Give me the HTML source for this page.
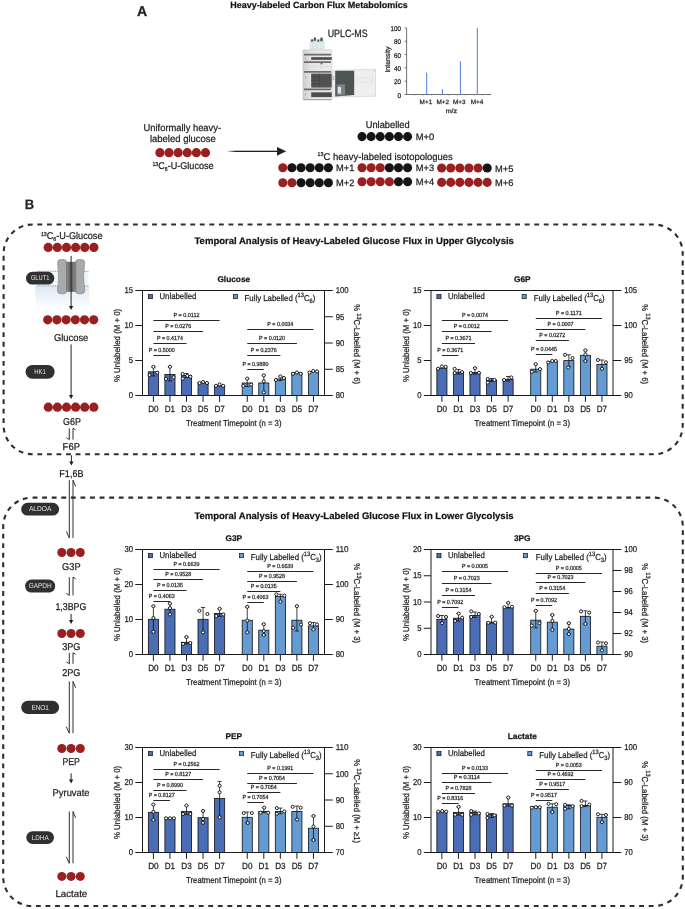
<!DOCTYPE html>
<html><head><meta charset="utf-8"><title>Heavy-labeled Carbon Flux Metabolomics</title>
<style>
html,body{margin:0;padding:0;background:#fff;width:685px;height:909px;overflow:hidden;}
svg{display:block;will-change:transform;text-rendering:geometricPrecision;}
text{font-family:"Liberation Sans", sans-serif;stroke:#1a1a1a;stroke-width:0.3px;stroke-opacity:0.75;}
text.w{stroke:none;}
</style></head><body>
<svg width="685" height="909" viewBox="0 0 685 909" font-family='"Liberation Sans", sans-serif'>
<text x="137" y="15.6" font-size="14.2" font-weight="bold" fill="#222" textLength="10.2" lengthAdjust="spacingAndGlyphs">A</text>
<text x="230.2" y="8" font-size="9" font-weight="bold" fill="#111" textLength="177.5" lengthAdjust="spacingAndGlyphs">Heavy-labeled Carbon Flux Metabolomics</text>
<text x="327.7" y="37.1" font-size="10.6" fill="#222" textLength="39.9" lengthAdjust="spacingAndGlyphs">UPLC-MS</text>
<g id="inst">
<rect x="310" y="41" width="14.4" height="8.2" rx="0.8" fill="#dcecef" stroke="#c2d3d6" stroke-width="0.35"/>
<path d="M312.6 42v7M316.6 41.5v7.5M320.2 42v7" stroke="#c8dadd" stroke-width="0.5"/>
<rect x="310.9" y="39.4" width="2.4" height="2.2" fill="#5a5a5a"/>
<rect x="313.8" y="37.6" width="2.2" height="3.2" fill="#4d4d4d"/>
<rect x="317.2" y="39.6" width="2.2" height="2" fill="#5a5a5a"/>
<rect x="320.3" y="37.8" width="2.4" height="3.4" fill="#4d4d4d"/>
<rect x="311.6" y="39.0" width="1.2" height="0.9" fill="#d9686a"/>
<rect x="314.3" y="37.3" width="1.1" height="0.9" fill="#d9686a"/>
<rect x="317.8" y="39.1" width="1.1" height="0.9" fill="#d9686a"/>
<rect x="320.9" y="37.4" width="1.2" height="0.9" fill="#d9686a"/>
<defs><linearGradient id="mg" x1="0" x2="1" y1="0" y2="0"><stop offset="0" stop-color="#cfcfcf"/><stop offset="0.3" stop-color="#e4e4e4"/><stop offset="1" stop-color="#ededed"/></linearGradient></defs>
<rect x="302.9" y="49.8" width="29" height="50" rx="0.8" fill="url(#mg)" stroke="#b0b0b0" stroke-width="0.4"/>
<path d="M304 54.6H331M304 62.2H331M304 71.8H331M304 89.4H331" stroke="#6c6c6c" stroke-width="1.8"/>
<path d="M303.2 99.6H331.6" stroke="#9a9a9a" stroke-width="0.9"/>
<rect x="311.2" y="57.2" width="20.6" height="2.6" fill="#4a4a4a"/>
<rect x="320.6" y="63.1" width="1.8" height="1.2" fill="#555"/>
<path d="M311 66.8H331" stroke="#d0d0d0" stroke-width="0.5"/>
<rect x="311.2" y="73.6" width="20.6" height="14.0" fill="#525252"/>
<path d="M311.2 77H319.5M311.2 80.5H319.5M311.2 84H319.5" stroke="#3e3e3e" stroke-width="0.6"/>
<path d="M319.6 73.6V87.6" stroke="#464646" stroke-width="0.5"/>
<rect x="311.2" y="92.3" width="20.6" height="4.8" fill="#4d4d4d"/>
<path d="M305.5 57.5v2M305.5 76v2.5M305.5 93.5v2" stroke="#9c9c9c" stroke-width="0.6"/>
<path d="M332.2 70.4L375.5 69.2V96.2L332.2 97Z" fill="#efefef" stroke="#c4c4c4" stroke-width="0.5"/>
<path d="M335.2 70.7H354.2V95L335.2 96.6Z" fill="#4d5453"/>
<rect x="336.7" y="84.4" width="8.4" height="11" fill="#7a8181"/>
<rect x="337.8" y="86.8" width="3.2" height="6.8" rx="0.6" fill="#d6e6f4"/>
<path d="M356 78H372.4M356 82.1H372.4M372.4 73.4V82.1" stroke="#d6d6d6" stroke-width="0.45" fill="none"/>
<path d="M332.6 77h1.8M332.6 79.2h1.8" stroke="#555" stroke-width="0.6"/>
<rect x="373.3" y="70.4" width="1.8" height="0.9" fill="#8fd18f"/>
</g>
<g id="spec">
<path d="M406.6 27.9V94.5H491.2" fill="none" stroke="#333" stroke-width="0.7"/>
<path d="M404.4 94.5H406.6" stroke="#333" stroke-width="0.6"/>
<text x="401" y="97.6" font-size="6.9" text-anchor="end" fill="#2a2a2a" textLength="3.6" lengthAdjust="spacingAndGlyphs">0</text>
<path d="M404.4 81.18H406.6" stroke="#333" stroke-width="0.6"/>
<text x="401" y="84.28" font-size="6.9" text-anchor="end" fill="#2a2a2a" textLength="7" lengthAdjust="spacingAndGlyphs">20</text>
<path d="M404.4 67.86H406.6" stroke="#333" stroke-width="0.6"/>
<text x="401" y="70.96" font-size="6.9" text-anchor="end" fill="#2a2a2a" textLength="7" lengthAdjust="spacingAndGlyphs">40</text>
<path d="M404.4 54.54H406.6" stroke="#333" stroke-width="0.6"/>
<text x="401" y="57.64" font-size="6.9" text-anchor="end" fill="#2a2a2a" textLength="7" lengthAdjust="spacingAndGlyphs">60</text>
<path d="M404.4 41.22H406.6" stroke="#333" stroke-width="0.6"/>
<text x="401" y="44.32" font-size="6.9" text-anchor="end" fill="#2a2a2a" textLength="7" lengthAdjust="spacingAndGlyphs">80</text>
<path d="M404.4 27.9H406.6" stroke="#333" stroke-width="0.6"/>
<text x="401" y="31" font-size="6.9" text-anchor="end" fill="#2a2a2a" textLength="10.4" lengthAdjust="spacingAndGlyphs">100</text>
<path d="M414.5 94.5v1.8" stroke="#999" stroke-width="0.5"/>
<path d="M423.2 94.5v1.8" stroke="#999" stroke-width="0.5"/>
<path d="M431.7 94.5v1.8" stroke="#999" stroke-width="0.5"/>
<path d="M440.2 94.5v1.8" stroke="#999" stroke-width="0.5"/>
<path d="M448.7 94.5v1.8" stroke="#999" stroke-width="0.5"/>
<path d="M457.2 94.5v1.8" stroke="#999" stroke-width="0.5"/>
<path d="M465.7 94.5v1.8" stroke="#999" stroke-width="0.5"/>
<path d="M474.2 94.5v1.8" stroke="#999" stroke-width="0.5"/>
<path d="M482.7 94.5v1.8" stroke="#999" stroke-width="0.5"/>
<path d="M426.7 94.5V72.52" stroke="#4a7fd0" stroke-width="1.0"/>
<path d="M442.4 94.5V89.17" stroke="#4a7fd0" stroke-width="1.0"/>
<path d="M460.4 94.5V61.2" stroke="#4a7fd0" stroke-width="1.0"/>
<path d="M477.3 94.5V27.9" stroke="#4a7fd0" stroke-width="1.0"/>
<text x="425.9" y="103.9" font-size="6.2" text-anchor="middle" fill="#333" textLength="12.6" lengthAdjust="spacingAndGlyphs">M+1</text>
<text x="442.7" y="103.9" font-size="6.2" text-anchor="middle" fill="#333" textLength="12.6" lengthAdjust="spacingAndGlyphs">M+2</text>
<text x="459.2" y="103.9" font-size="6.2" text-anchor="middle" fill="#333" textLength="12.6" lengthAdjust="spacingAndGlyphs">M+3</text>
<text x="477.1" y="103.9" font-size="6.2" text-anchor="middle" fill="#333" textLength="12.6" lengthAdjust="spacingAndGlyphs">M+4</text>
<text x="451.4" y="113.4" font-size="6.2" text-anchor="middle" fill="#333" textLength="11.5" lengthAdjust="spacingAndGlyphs">m/z</text>
<text transform="translate(390.4 59.6) rotate(-90)" font-size="7" text-anchor="middle" fill="#2a2a2a" textLength="26" lengthAdjust="spacingAndGlyphs">Intensity</text>
</g>
<text x="143.6" y="130.9" font-size="9.8" fill="#222" textLength="77.4" lengthAdjust="spacingAndGlyphs">Uniformally heavy-</text>
<text x="149.9" y="142.2" font-size="9.8" fill="#222" textLength="66" lengthAdjust="spacingAndGlyphs">labeled glucose</text>
<circle cx="159.9" cy="152.7" r="4.6" fill="#9a1f20"/>
<circle cx="169.02" cy="152.7" r="4.6" fill="#9a1f20"/>
<circle cx="178.14" cy="152.7" r="4.6" fill="#9a1f20"/>
<circle cx="187.26" cy="152.7" r="4.6" fill="#9a1f20"/>
<circle cx="196.38" cy="152.7" r="4.6" fill="#9a1f20"/>
<circle cx="205.5" cy="152.7" r="4.6" fill="#9a1f20"/>
<text x="152.4" y="169.2" font-size="9.8" textLength="61.2" lengthAdjust="spacingAndGlyphs" fill="#222"><tspan font-size="5.6" dy="-3.2">13</tspan><tspan dy="3.2">C</tspan><tspan font-size="5.6" dy="1.6">6</tspan><tspan dy="-1.6">-U-Glucose</tspan></text>
<defs><linearGradient id="ag" x1="0" x2="1" y1="0" y2="0"><stop offset="0" stop-color="#222" stop-opacity="0"/><stop offset="0.18" stop-color="#222" stop-opacity="1"/></linearGradient><linearGradient id="mem" x1="0" x2="0" y1="0" y2="1"><stop offset="0" stop-color="#dde9f3"/><stop offset="1" stop-color="#fbfdfe"/></linearGradient></defs>
<rect x="226.4" y="150.7" width="51" height="1.3" fill="url(#ag)"/>
<path d="M277 146.9L286.2 151.3L277 155.7Z" fill="#222"/>
<text x="365.7" y="127.6" font-size="9.8" fill="#222" textLength="43.9" lengthAdjust="spacingAndGlyphs">Unlabelled</text>
<circle cx="362" cy="136.6" r="4.55" fill="#151515"/>
<circle cx="371.12" cy="136.6" r="4.55" fill="#151515"/>
<circle cx="380.24" cy="136.6" r="4.55" fill="#151515"/>
<circle cx="389.36" cy="136.6" r="4.55" fill="#151515"/>
<circle cx="398.48" cy="136.6" r="4.55" fill="#151515"/>
<circle cx="407.6" cy="136.6" r="4.55" fill="#151515"/>
<text x="415.7" y="140" font-size="9.4" fill="#222" textLength="18.4" lengthAdjust="spacingAndGlyphs">M+0</text>
<text x="317.6" y="159.5" font-size="9.8" textLength="135.2" lengthAdjust="spacingAndGlyphs" fill="#222"><tspan font-size="5.6" dy="-3.2">13</tspan><tspan dy="3.2">C heavy-labeled isotopologues</tspan></text>
<circle cx="282.8" cy="167.8" r="4.55" fill="#9a1f20"/>
<circle cx="291.92" cy="167.8" r="4.55" fill="#151515"/>
<circle cx="301.04" cy="167.8" r="4.55" fill="#151515"/>
<circle cx="310.16" cy="167.8" r="4.55" fill="#151515"/>
<circle cx="319.28" cy="167.8" r="4.55" fill="#151515"/>
<circle cx="328.4" cy="167.8" r="4.55" fill="#151515"/>
<text x="336" y="171.3" font-size="9.4" fill="#222" textLength="18.4" lengthAdjust="spacingAndGlyphs">M+1</text>
<circle cx="282.8" cy="182.7" r="4.55" fill="#9a1f20"/>
<circle cx="291.92" cy="182.7" r="4.55" fill="#9a1f20"/>
<circle cx="301.04" cy="182.7" r="4.55" fill="#151515"/>
<circle cx="310.16" cy="182.7" r="4.55" fill="#151515"/>
<circle cx="319.28" cy="182.7" r="4.55" fill="#151515"/>
<circle cx="328.4" cy="182.7" r="4.55" fill="#151515"/>
<text x="336" y="186.2" font-size="9.4" fill="#222" textLength="18.4" lengthAdjust="spacingAndGlyphs">M+2</text>
<circle cx="362" cy="167.8" r="4.55" fill="#9a1f20"/>
<circle cx="371.12" cy="167.8" r="4.55" fill="#9a1f20"/>
<circle cx="380.24" cy="167.8" r="4.55" fill="#9a1f20"/>
<circle cx="389.36" cy="167.8" r="4.55" fill="#151515"/>
<circle cx="398.48" cy="167.8" r="4.55" fill="#151515"/>
<circle cx="407.6" cy="167.8" r="4.55" fill="#151515"/>
<text x="415.7" y="171.3" font-size="9.4" fill="#222" textLength="18.4" lengthAdjust="spacingAndGlyphs">M+3</text>
<circle cx="362" cy="181.8" r="4.55" fill="#9a1f20"/>
<circle cx="371.12" cy="181.8" r="4.55" fill="#9a1f20"/>
<circle cx="380.24" cy="181.8" r="4.55" fill="#9a1f20"/>
<circle cx="389.36" cy="181.8" r="4.55" fill="#9a1f20"/>
<circle cx="398.48" cy="181.8" r="4.55" fill="#151515"/>
<circle cx="407.6" cy="181.8" r="4.55" fill="#151515"/>
<text x="415.7" y="185.3" font-size="9.4" fill="#222" textLength="18.4" lengthAdjust="spacingAndGlyphs">M+4</text>
<circle cx="441.6" cy="168" r="4.55" fill="#9a1f20"/>
<circle cx="450.72" cy="168" r="4.55" fill="#9a1f20"/>
<circle cx="459.84" cy="168" r="4.55" fill="#9a1f20"/>
<circle cx="468.96" cy="168" r="4.55" fill="#9a1f20"/>
<circle cx="478.08" cy="168" r="4.55" fill="#9a1f20"/>
<circle cx="487.2" cy="168" r="4.55" fill="#151515"/>
<text x="495" y="171.5" font-size="9.4" fill="#222" textLength="18.4" lengthAdjust="spacingAndGlyphs">M+5</text>
<circle cx="441.6" cy="182.4" r="4.55" fill="#9a1f20"/>
<circle cx="450.72" cy="182.4" r="4.55" fill="#9a1f20"/>
<circle cx="459.84" cy="182.4" r="4.55" fill="#9a1f20"/>
<circle cx="468.96" cy="182.4" r="4.55" fill="#9a1f20"/>
<circle cx="478.08" cy="182.4" r="4.55" fill="#9a1f20"/>
<circle cx="487.2" cy="182.4" r="4.55" fill="#9a1f20"/>
<text x="495" y="185.9" font-size="9.4" fill="#222" textLength="18.4" lengthAdjust="spacingAndGlyphs">M+6</text>
<text x="24.8" y="208.8" font-size="13.6" font-weight="bold" fill="#222" textLength="9.4" lengthAdjust="spacingAndGlyphs">B</text>
<g fill="none" stroke="#2e2e2e" stroke-width="2.1">
<rect x="3.6" y="224.5" width="679.1" height="229.8" rx="29" ry="29" stroke-dasharray="4.85 4.7046" stroke-dashoffset="4.75"/>
<rect x="3.2" y="497.6" width="679.6" height="408.4" rx="29" ry="29" stroke-dasharray="4.85 4.7248" stroke-dashoffset="9.17"/>
</g>
<text x="194.5" y="244.3" font-size="9.6" font-weight="bold" fill="#111" textLength="319.4" lengthAdjust="spacingAndGlyphs">Temporal Analysis of Heavy-Labeled Glucose Flux in Upper Glycolysis</text>
<text x="194.4" y="518.9" font-size="9.6" font-weight="bold" fill="#111" textLength="319.2" lengthAdjust="spacingAndGlyphs">Temporal Analysis of Heavy-Labeled Glucose Flux in Lower Glycolysis</text>
<text x="40.9" y="239.0" font-size="9.8" textLength="61.6" lengthAdjust="spacingAndGlyphs" fill="#222"><tspan font-size="5.6" dy="-3.2">13</tspan><tspan dy="3.2">C</tspan><tspan font-size="5.6" dy="1.6">6</tspan><tspan dy="-1.6">-U-Glucose</tspan></text>
<circle cx="48.2" cy="247.4" r="4.6" fill="#9a1f20"/>
<circle cx="57.34" cy="247.4" r="4.6" fill="#9a1f20"/>
<circle cx="66.48" cy="247.4" r="4.6" fill="#9a1f20"/>
<circle cx="75.62" cy="247.4" r="4.6" fill="#9a1f20"/>
<circle cx="84.76" cy="247.4" r="4.6" fill="#9a1f20"/>
<circle cx="93.9" cy="247.4" r="4.6" fill="#9a1f20"/>
<rect x="35.2" y="286" width="54" height="21" fill="url(#mem)"/>
<rect x="37" y="271.5" width="51.5" height="14.3" fill="#f7fafd"/>
<path d="M38 273.5V284M41 273.5V284M44 273.5V284M47 273.5V284M50 273.5V284M53 273.5V284M56 273.5V284M87 273.5V284" stroke="#dfe8f2" stroke-width="0.5"/>
<path d="M37 271.3H88.5M37 285.8H88.5" stroke="#8fa6c4" stroke-width="1.2" stroke-dasharray="1 0.8"/>
<path d="M57.5 262.5Q57.5 259.5 61 259.5L64 259.5Q66.5 259.5 66.5 262.5L66.5 291Q66.5 293.8 63.5 293.8L61 293.8Q57.5 293.8 57.5 290.5Q59.5 276.7 57.5 262.5Z" fill="#a9aaab" stroke="#6f7071" stroke-width="0.5"/>
<path d="M84.7 262.5Q84.7 259.5 81.2 259.5L78.2 259.5Q75.7 259.5 75.7 262.5L75.7 291Q75.7 293.8 78.7 293.8L81.2 293.8Q84.7 293.8 84.7 290.5Q82.7 276.7 84.7 262.5Z" fill="#a9aaab" stroke="#6f7071" stroke-width="0.5"/>
<rect x="66.3" y="262.0" width="9.6" height="29.6" fill="#808182" stroke="#6f7071" stroke-width="0.4"/>
<rect x="68.6" y="262.0" width="5" height="29.6" fill="#6a6b6c"/>
<rect x="26" y="271.8" width="28.3" height="12.8" rx="6.4" fill="#2f3030"/>
<text x="40.15" y="280.3" font-size="7.1" text-anchor="middle" fill="#e6e6e6" textLength="18.5" lengthAdjust="spacingAndGlyphs" class="w">GLUT1</text>
<path d="M71.1 255.8V306.4" stroke="#262626" stroke-width="1"/>
<path d="M68.95 306L71.1 309.9L73.25 306Z" fill="#1e1e1e"/>
<circle cx="47.7" cy="319.8" r="4.6" fill="#9a1f20"/>
<circle cx="56.9" cy="319.8" r="4.6" fill="#9a1f20"/>
<circle cx="66.1" cy="319.8" r="4.6" fill="#9a1f20"/>
<circle cx="75.3" cy="319.8" r="4.6" fill="#9a1f20"/>
<circle cx="84.5" cy="319.8" r="4.6" fill="#9a1f20"/>
<circle cx="93.7" cy="319.8" r="4.6" fill="#9a1f20"/>
<text x="71.1" y="340.5" font-size="9.9" text-anchor="middle" fill="#222" textLength="34.4" lengthAdjust="spacingAndGlyphs">Glucose</text>
<path d="M71.1 344.4V395.5" stroke="#262626" stroke-width="1"/>
<path d="M68.95 395.1L71.1 399L73.25 395.1Z" fill="#1e1e1e"/>
<rect x="25.5" y="365" width="29.2" height="13.7" rx="6.85" fill="#2f3030"/>
<text x="40.1" y="373.95" font-size="7.1" text-anchor="middle" fill="#e6e6e6" textLength="11.5" lengthAdjust="spacingAndGlyphs" class="w">HK1</text>
<circle cx="48.3" cy="407.2" r="4.6" fill="#9a1f20"/>
<circle cx="57.4" cy="407.2" r="4.6" fill="#9a1f20"/>
<circle cx="66.5" cy="407.2" r="4.6" fill="#9a1f20"/>
<circle cx="75.6" cy="407.2" r="4.6" fill="#9a1f20"/>
<circle cx="84.7" cy="407.2" r="4.6" fill="#9a1f20"/>
<circle cx="93.8" cy="407.2" r="4.6" fill="#9a1f20"/>
<text x="72" y="424.8" font-size="9.9" text-anchor="middle" fill="#222" textLength="17.9" lengthAdjust="spacingAndGlyphs">G6P</text>
<path d="M69.3 428.3V439.6L66.4 437.6" fill="none" stroke="#262626" stroke-width="0.95" stroke-linejoin="round"/>
<path d="M73 439.6V428.3L75.6 429.8" fill="none" stroke="#262626" stroke-width="0.95" stroke-linejoin="round"/>
<text x="71.3" y="450.1" font-size="9.9" text-anchor="middle" fill="#222" textLength="17.4" lengthAdjust="spacingAndGlyphs">F6P</text>
<path d="M71.4 455.3V462" stroke="#262626" stroke-width="1"/>
<path d="M69.25 461.6L71.4 465.5L73.55 461.6Z" fill="#1e1e1e"/>
<text x="71.4" y="476.9" font-size="9.9" text-anchor="middle" fill="#222" textLength="24.1" lengthAdjust="spacingAndGlyphs">F1,6B</text>
<path d="M69.3 480.2V537.9L66.3 531.4" fill="none" stroke="#262626" stroke-width="0.95" stroke-linejoin="round"/>
<path d="M73 537.9V480.2L75.6 486.5" fill="none" stroke="#262626" stroke-width="0.95" stroke-linejoin="round"/>
<rect x="21.2" y="502.8" width="37.9" height="12.7" rx="6.35" fill="#2f3030"/>
<text x="40.15" y="511.25" font-size="7.1" text-anchor="middle" fill="#e6e6e6" textLength="22.5" lengthAdjust="spacingAndGlyphs" class="w">ALDOA</text>
<circle cx="61.8" cy="552.5" r="4.5" fill="#9a1f20"/>
<circle cx="71.05" cy="552.5" r="4.5" fill="#9a1f20"/>
<circle cx="80.3" cy="552.5" r="4.5" fill="#9a1f20"/>
<text x="71.4" y="570" font-size="9.9" text-anchor="middle" fill="#222" textLength="18.6" lengthAdjust="spacingAndGlyphs">G3P</text>
<path d="M69.3 577.2V595.4L66.4 593.4" fill="none" stroke="#262626" stroke-width="0.95" stroke-linejoin="round"/>
<path d="M73 595.4V577.2L75.6 578.7" fill="none" stroke="#262626" stroke-width="0.95" stroke-linejoin="round"/>
<rect x="25.1" y="579.5" width="30.1" height="13.1" rx="6.55" fill="#2f3030"/>
<text x="40.15" y="588.15" font-size="7.1" text-anchor="middle" fill="#e6e6e6" textLength="23" lengthAdjust="spacingAndGlyphs" class="w">GAPDH</text>
<text x="70.9" y="609.7" font-size="9.9" text-anchor="middle" fill="#222" textLength="31" lengthAdjust="spacingAndGlyphs">1,3BPG</text>
<path d="M71.1 613.8V620.5" stroke="#262626" stroke-width="1"/>
<path d="M68.95 620.1L71.1 624L73.25 620.1Z" fill="#1e1e1e"/>
<circle cx="61.8" cy="633.5" r="4.5" fill="#9a1f20"/>
<circle cx="71.05" cy="633.5" r="4.5" fill="#9a1f20"/>
<circle cx="80.3" cy="633.5" r="4.5" fill="#9a1f20"/>
<text x="71.3" y="649.6" font-size="9.9" text-anchor="middle" fill="#222" textLength="18.3" lengthAdjust="spacingAndGlyphs">3PG</text>
<path d="M69.3 652.8V663.8L66.4 661.8" fill="none" stroke="#262626" stroke-width="0.95" stroke-linejoin="round"/>
<path d="M73 663.8V652.8L75.6 654.3" fill="none" stroke="#262626" stroke-width="0.95" stroke-linejoin="round"/>
<text x="71.3" y="676" font-size="9.9" text-anchor="middle" fill="#222" textLength="18.3" lengthAdjust="spacingAndGlyphs">2PG</text>
<path d="M69.3 681.4V733.2L66.3 726.7" fill="none" stroke="#262626" stroke-width="0.95" stroke-linejoin="round"/>
<path d="M73 733.2V681.4L75.6 687.7" fill="none" stroke="#262626" stroke-width="0.95" stroke-linejoin="round"/>
<rect x="21.2" y="700.8" width="37.9" height="13.2" rx="6.6" fill="#2f3030"/>
<text x="40.15" y="709.5" font-size="7.1" text-anchor="middle" fill="#e6e6e6" textLength="17.5" lengthAdjust="spacingAndGlyphs" class="w">ENO1</text>
<circle cx="61.8" cy="748.5" r="4.5" fill="#9a1f20"/>
<circle cx="71.05" cy="748.5" r="4.5" fill="#9a1f20"/>
<circle cx="80.3" cy="748.5" r="4.5" fill="#9a1f20"/>
<text x="71.2" y="764.8" font-size="9.9" text-anchor="middle" fill="#222" textLength="17.6" lengthAdjust="spacingAndGlyphs">PEP</text>
<path d="M71.1 773.3V780" stroke="#262626" stroke-width="1"/>
<path d="M68.95 779.6L71.1 783.5L73.25 779.6Z" fill="#1e1e1e"/>
<text x="71.1" y="795.9" font-size="9.9" text-anchor="middle" fill="#222" textLength="37" lengthAdjust="spacingAndGlyphs">Pyruvate</text>
<path d="M69.3 811.5V863.3L66.3 856.8" fill="none" stroke="#262626" stroke-width="0.95" stroke-linejoin="round"/>
<path d="M73 863.3V811.5L75.6 817.8" fill="none" stroke="#262626" stroke-width="0.95" stroke-linejoin="round"/>
<rect x="26.3" y="831.2" width="27.7" height="12.7" rx="6.35" fill="#2f3030"/>
<text x="40.15" y="839.65" font-size="7.1" text-anchor="middle" fill="#e6e6e6" textLength="17" lengthAdjust="spacingAndGlyphs" class="w">LDHA</text>
<circle cx="61.8" cy="876.4" r="4.5" fill="#9a1f20"/>
<circle cx="71.05" cy="876.4" r="4.5" fill="#9a1f20"/>
<circle cx="80.3" cy="876.4" r="4.5" fill="#9a1f20"/>
<text x="71.35" y="896.9" font-size="9.9" text-anchor="middle" fill="#222" textLength="31.9" lengthAdjust="spacingAndGlyphs">Lactate</text>
<g>
<text x="233.75" y="282" font-size="8.3" text-anchor="middle" font-weight="bold" fill="#111">Glucose</text>
<path d="M142.5 290.5H324.5M142.5 290.5V395.5H324.5V290.5" fill="none" stroke="#1a1a1a" stroke-width="1"/>
<path d="M135.3 395.5H142.5" stroke="#1a1a1a" stroke-width="1"/>
<text x="133.1" y="398.2" font-size="8.5" text-anchor="end" fill="#1c1c1c" textLength="4.3" lengthAdjust="spacingAndGlyphs">0</text>
<path d="M135.3 360.5H142.5" stroke="#1a1a1a" stroke-width="1"/>
<text x="133.1" y="363.2" font-size="8.5" text-anchor="end" fill="#1c1c1c" textLength="4.3" lengthAdjust="spacingAndGlyphs">5</text>
<path d="M135.3 325.5H142.5" stroke="#1a1a1a" stroke-width="1"/>
<text x="133.1" y="328.2" font-size="8.5" text-anchor="end" fill="#1c1c1c" textLength="8.6" lengthAdjust="spacingAndGlyphs">10</text>
<path d="M135.3 290.5H142.5" stroke="#1a1a1a" stroke-width="1"/>
<text x="133.1" y="293.2" font-size="8.5" text-anchor="end" fill="#1c1c1c" textLength="8.6" lengthAdjust="spacingAndGlyphs">15</text>
<path d="M324.5 395.5H332.8" stroke="#1a1a1a" stroke-width="1"/>
<text x="335.7" y="398.3" font-size="8.5" fill="#1c1c1c" textLength="8.6" lengthAdjust="spacingAndGlyphs">80</text>
<path d="M324.5 369.25H332.8" stroke="#1a1a1a" stroke-width="1"/>
<text x="335.7" y="372.05" font-size="8.5" fill="#1c1c1c" textLength="8.6" lengthAdjust="spacingAndGlyphs">85</text>
<path d="M324.5 343H332.8" stroke="#1a1a1a" stroke-width="1"/>
<text x="335.7" y="345.8" font-size="8.5" fill="#1c1c1c" textLength="8.6" lengthAdjust="spacingAndGlyphs">90</text>
<path d="M324.5 316.75H332.8" stroke="#1a1a1a" stroke-width="1"/>
<text x="335.7" y="319.55" font-size="8.5" fill="#1c1c1c" textLength="8.6" lengthAdjust="spacingAndGlyphs">95</text>
<path d="M324.5 290.5H332.8" stroke="#1a1a1a" stroke-width="1"/>
<text x="335.7" y="293.3" font-size="8.5" fill="#1c1c1c" textLength="12.9" lengthAdjust="spacingAndGlyphs">100</text>
<text transform="translate(120.2 345.5) rotate(-90)" font-size="8.6" text-anchor="middle" fill="#1c1c1c" textLength="73.2" lengthAdjust="spacingAndGlyphs">% Unlabelled (M + 0)</text>
<text transform="translate(353.9 344.2) rotate(90)" font-size="8.6" text-anchor="middle" fill="#1c1c1c" textLength="79.8" lengthAdjust="spacingAndGlyphs">% <tspan font-size="6.2" dy="-3.3">13</tspan><tspan dy="3.3">C-Labelled (M + 6)</tspan></text>
<path d="M153.4 395.5V401.8" stroke="#1a1a1a" stroke-width="1"/>
<text x="153.4" y="411.7" font-size="9" text-anchor="middle" fill="#1c1c1c" textLength="10.4" lengthAdjust="spacingAndGlyphs">D0</text>
<path d="M169.95 395.5V401.8" stroke="#1a1a1a" stroke-width="1"/>
<text x="169.95" y="411.7" font-size="9" text-anchor="middle" fill="#1c1c1c" textLength="10.4" lengthAdjust="spacingAndGlyphs">D1</text>
<path d="M186.5 395.5V401.8" stroke="#1a1a1a" stroke-width="1"/>
<text x="186.5" y="411.7" font-size="9" text-anchor="middle" fill="#1c1c1c" textLength="10.4" lengthAdjust="spacingAndGlyphs">D3</text>
<path d="M203.05 395.5V401.8" stroke="#1a1a1a" stroke-width="1"/>
<text x="203.05" y="411.7" font-size="9" text-anchor="middle" fill="#1c1c1c" textLength="10.4" lengthAdjust="spacingAndGlyphs">D5</text>
<path d="M219.6 395.5V401.8" stroke="#1a1a1a" stroke-width="1"/>
<text x="219.6" y="411.7" font-size="9" text-anchor="middle" fill="#1c1c1c" textLength="10.4" lengthAdjust="spacingAndGlyphs">D7</text>
<path d="M247.25 395.5V401.8" stroke="#1a1a1a" stroke-width="1"/>
<text x="247.25" y="411.7" font-size="9" text-anchor="middle" fill="#1c1c1c" textLength="10.4" lengthAdjust="spacingAndGlyphs">D0</text>
<path d="M263.8 395.5V401.8" stroke="#1a1a1a" stroke-width="1"/>
<text x="263.8" y="411.7" font-size="9" text-anchor="middle" fill="#1c1c1c" textLength="10.4" lengthAdjust="spacingAndGlyphs">D1</text>
<path d="M280.35 395.5V401.8" stroke="#1a1a1a" stroke-width="1"/>
<text x="280.35" y="411.7" font-size="9" text-anchor="middle" fill="#1c1c1c" textLength="10.4" lengthAdjust="spacingAndGlyphs">D3</text>
<path d="M296.9 395.5V401.8" stroke="#1a1a1a" stroke-width="1"/>
<text x="296.9" y="411.7" font-size="9" text-anchor="middle" fill="#1c1c1c" textLength="10.4" lengthAdjust="spacingAndGlyphs">D5</text>
<path d="M313.45 395.5V401.8" stroke="#1a1a1a" stroke-width="1"/>
<text x="313.45" y="411.7" font-size="9" text-anchor="middle" fill="#1c1c1c" textLength="10.4" lengthAdjust="spacingAndGlyphs">D7</text>
<text x="233.8" y="425.7" font-size="8.6" text-anchor="middle" fill="#1c1c1c" textLength="95.4" lengthAdjust="spacingAndGlyphs">Treatment Timepoint (n = 3)</text>
<rect x="148.4" y="294.6" width="4.1" height="4.1" fill="#4a6db5" stroke="#111" stroke-width="0.7"/>
<text x="159.5" y="298.8" font-size="8.6" fill="#1c1c1c" textLength="36.8" lengthAdjust="spacingAndGlyphs">Unlabelled</text>
<rect x="233.4" y="294.6" width="4.1" height="4.1" fill="#639bd2" stroke="#111" stroke-width="0.7"/>
<text x="244.6" y="301" font-size="8.6" fill="#1c1c1c" textLength="70.8" lengthAdjust="spacingAndGlyphs">Fully Labelled (<tspan font-size="6.3" dy="-3.6">13</tspan><tspan dy="3.6">C</tspan><tspan font-size="6.3" dy="2.0">6</tspan><tspan dy="-2.0">)</tspan></text>
<rect x="148.35" y="371.8" width="10.1" height="23.7" fill="#4a6db5" stroke="#111" stroke-width="0.8"/>
<path d="M153.4 366.8V376M151.3 366.8H155.5M151.3 376H155.5" stroke="#111" stroke-width="0.8"/>
<circle cx="153.4" cy="366.8" r="1.55" fill="#fff" stroke="#0a0a0a" stroke-width="0.9"/>
<circle cx="149.6" cy="375" r="1.55" fill="#fff" stroke="#0a0a0a" stroke-width="0.9"/>
<circle cx="157.2" cy="372.7" r="1.55" fill="#fff" stroke="#0a0a0a" stroke-width="0.9"/>
<rect x="164.9" y="374.4" width="10.1" height="21.1" fill="#4a6db5" stroke="#111" stroke-width="0.8"/>
<path d="M169.95 366.8V381M167.85 366.8H172.05M167.85 381H172.05" stroke="#111" stroke-width="0.8"/>
<circle cx="169.95" cy="366.8" r="1.55" fill="#fff" stroke="#0a0a0a" stroke-width="0.9"/>
<circle cx="165.95" cy="379" r="1.55" fill="#fff" stroke="#0a0a0a" stroke-width="0.9"/>
<circle cx="173.55" cy="377.3" r="1.55" fill="#fff" stroke="#0a0a0a" stroke-width="0.9"/>
<rect x="181.45" y="375.4" width="10.1" height="20.1" fill="#4a6db5" stroke="#111" stroke-width="0.8"/>
<path d="M186.5 373.5V377.5M184.4 373.5H188.6M184.4 377.5H188.6" stroke="#111" stroke-width="0.8"/>
<circle cx="182.7" cy="374" r="1.55" fill="#fff" stroke="#0a0a0a" stroke-width="0.9"/>
<circle cx="182.7" cy="378.6" r="1.55" fill="#fff" stroke="#0a0a0a" stroke-width="0.9"/>
<circle cx="187.3" cy="375.8" r="1.55" fill="#fff" stroke="#0a0a0a" stroke-width="0.9"/>
<circle cx="190.4" cy="376.7" r="1.55" fill="#fff" stroke="#0a0a0a" stroke-width="0.9"/>
<rect x="198" y="382.6" width="10.1" height="12.9" fill="#4a6db5" stroke="#111" stroke-width="0.8"/>
<circle cx="199.55" cy="383" r="1.55" fill="#fff" stroke="#0a0a0a" stroke-width="0.9"/>
<circle cx="203.05" cy="382" r="1.55" fill="#fff" stroke="#0a0a0a" stroke-width="0.9"/>
<circle cx="206.95" cy="383" r="1.55" fill="#fff" stroke="#0a0a0a" stroke-width="0.9"/>
<rect x="214.55" y="385.9" width="10.1" height="9.6" fill="#4a6db5" stroke="#111" stroke-width="0.8"/>
<circle cx="216" cy="385.8" r="1.55" fill="#fff" stroke="#0a0a0a" stroke-width="0.9"/>
<circle cx="219.6" cy="384.3" r="1.55" fill="#fff" stroke="#0a0a0a" stroke-width="0.9"/>
<circle cx="223.2" cy="385.8" r="1.55" fill="#fff" stroke="#0a0a0a" stroke-width="0.9"/>
<rect x="242.2" y="383" width="10.1" height="12.5" fill="#639bd2" stroke="#111" stroke-width="0.8"/>
<path d="M247.25 378.6V386.5M245.15 378.6H249.35M245.15 386.5H249.35" stroke="#111" stroke-width="0.8"/>
<circle cx="247.25" cy="378.6" r="1.55" fill="#fff" stroke="#0a0a0a" stroke-width="0.9"/>
<circle cx="243.35" cy="385.9" r="1.55" fill="#fff" stroke="#0a0a0a" stroke-width="0.9"/>
<circle cx="251.15" cy="384.6" r="1.55" fill="#fff" stroke="#0a0a0a" stroke-width="0.9"/>
<rect x="258.75" y="383" width="10.1" height="12.5" fill="#639bd2" stroke="#111" stroke-width="0.8"/>
<path d="M263.8 375.4V392.4M261.7 375.4H265.9M261.7 392.4H265.9" stroke="#111" stroke-width="0.8"/>
<circle cx="263.8" cy="375.4" r="1.55" fill="#fff" stroke="#0a0a0a" stroke-width="0.9"/>
<circle cx="263.8" cy="381.3" r="1.55" fill="#fff" stroke="#0a0a0a" stroke-width="0.9"/>
<circle cx="263.8" cy="392.4" r="1.55" fill="#fff" stroke="#0a0a0a" stroke-width="0.9"/>
<rect x="275.3" y="379" width="10.1" height="16.5" fill="#639bd2" stroke="#111" stroke-width="0.8"/>
<path d="M280.35 376.4V380.5M278.25 376.4H282.45M278.25 380.5H282.45" stroke="#111" stroke-width="0.8"/>
<circle cx="275.95" cy="380" r="1.55" fill="#fff" stroke="#0a0a0a" stroke-width="0.9"/>
<circle cx="280.35" cy="376.4" r="1.55" fill="#fff" stroke="#0a0a0a" stroke-width="0.9"/>
<circle cx="283.95" cy="378" r="1.55" fill="#fff" stroke="#0a0a0a" stroke-width="0.9"/>
<rect x="291.85" y="372.7" width="10.1" height="22.8" fill="#639bd2" stroke="#111" stroke-width="0.8"/>
<circle cx="293" cy="373.8" r="1.55" fill="#fff" stroke="#0a0a0a" stroke-width="0.9"/>
<circle cx="296.9" cy="372.5" r="1.55" fill="#fff" stroke="#0a0a0a" stroke-width="0.9"/>
<circle cx="300.6" cy="373.8" r="1.55" fill="#fff" stroke="#0a0a0a" stroke-width="0.9"/>
<rect x="308.4" y="371.4" width="10.1" height="24.1" fill="#639bd2" stroke="#111" stroke-width="0.8"/>
<circle cx="309.45" cy="372.5" r="1.55" fill="#fff" stroke="#0a0a0a" stroke-width="0.9"/>
<circle cx="313.25" cy="371" r="1.55" fill="#fff" stroke="#0a0a0a" stroke-width="0.9"/>
<circle cx="317.05" cy="371.4" r="1.55" fill="#fff" stroke="#0a0a0a" stroke-width="0.9"/>
<path d="M153.4 355.5H169.95" stroke="#262626" stroke-width="1"/>
<text x="161.68" y="352.2" font-size="5.9" text-anchor="middle" fill="#1c1c1c" textLength="26" lengthAdjust="spacingAndGlyphs">P = 0.5000</text>
<path d="M153.4 343.5H186.5" stroke="#262626" stroke-width="1"/>
<text x="169.95" y="340.2" font-size="5.9" text-anchor="middle" fill="#1c1c1c" textLength="26" lengthAdjust="spacingAndGlyphs">P = 0.4174</text>
<path d="M153.4 331.5H203.05" stroke="#262626" stroke-width="1"/>
<text x="178.23" y="328.2" font-size="5.9" text-anchor="middle" fill="#1c1c1c" textLength="26" lengthAdjust="spacingAndGlyphs">P = 0.0276</text>
<path d="M153.4 320.5H219.6" stroke="#262626" stroke-width="1"/>
<text x="186.5" y="317.2" font-size="5.9" text-anchor="middle" fill="#1c1c1c" textLength="26" lengthAdjust="spacingAndGlyphs">P = 0.0112</text>
<path d="M247.25 369.5H263.8" stroke="#262626" stroke-width="1"/>
<text x="255.53" y="366.2" font-size="5.9" text-anchor="middle" fill="#1c1c1c" textLength="26" lengthAdjust="spacingAndGlyphs">P = 0.9880</text>
<path d="M247.25 355.5H280.35" stroke="#262626" stroke-width="1"/>
<text x="263.8" y="352.2" font-size="5.9" text-anchor="middle" fill="#1c1c1c" textLength="26" lengthAdjust="spacingAndGlyphs">P = 0.2376</text>
<path d="M247.25 343.5H296.9" stroke="#262626" stroke-width="1"/>
<text x="272.07" y="340.2" font-size="5.9" text-anchor="middle" fill="#1c1c1c" textLength="26" lengthAdjust="spacingAndGlyphs">P = 0.0120</text>
<path d="M247.25 329.5H313.45" stroke="#262626" stroke-width="1"/>
<text x="280.35" y="326.2" font-size="5.9" text-anchor="middle" fill="#1c1c1c" textLength="26" lengthAdjust="spacingAndGlyphs">P = 0.0034</text>
</g>
<g>
<text x="522.25" y="282" font-size="8.3" text-anchor="middle" font-weight="bold" fill="#111">G6P</text>
<path d="M431 290.5H613M431 290.5V395.5H613V290.5" fill="none" stroke="#1a1a1a" stroke-width="1"/>
<path d="M423.8 395.5H431" stroke="#1a1a1a" stroke-width="1"/>
<text x="421.6" y="398.2" font-size="8.5" text-anchor="end" fill="#1c1c1c" textLength="4.3" lengthAdjust="spacingAndGlyphs">0</text>
<path d="M423.8 360.5H431" stroke="#1a1a1a" stroke-width="1"/>
<text x="421.6" y="363.2" font-size="8.5" text-anchor="end" fill="#1c1c1c" textLength="4.3" lengthAdjust="spacingAndGlyphs">5</text>
<path d="M423.8 325.5H431" stroke="#1a1a1a" stroke-width="1"/>
<text x="421.6" y="328.2" font-size="8.5" text-anchor="end" fill="#1c1c1c" textLength="8.6" lengthAdjust="spacingAndGlyphs">10</text>
<path d="M423.8 290.5H431" stroke="#1a1a1a" stroke-width="1"/>
<text x="421.6" y="293.2" font-size="8.5" text-anchor="end" fill="#1c1c1c" textLength="8.6" lengthAdjust="spacingAndGlyphs">15</text>
<path d="M613 395.5H621.3" stroke="#1a1a1a" stroke-width="1"/>
<text x="624.2" y="398.3" font-size="8.5" fill="#1c1c1c" textLength="8.6" lengthAdjust="spacingAndGlyphs">90</text>
<path d="M613 360.5H621.3" stroke="#1a1a1a" stroke-width="1"/>
<text x="624.2" y="363.3" font-size="8.5" fill="#1c1c1c" textLength="8.6" lengthAdjust="spacingAndGlyphs">95</text>
<path d="M613 325.5H621.3" stroke="#1a1a1a" stroke-width="1"/>
<text x="624.2" y="328.3" font-size="8.5" fill="#1c1c1c" textLength="12.9" lengthAdjust="spacingAndGlyphs">100</text>
<path d="M613 290.5H621.3" stroke="#1a1a1a" stroke-width="1"/>
<text x="624.2" y="293.3" font-size="8.5" fill="#1c1c1c" textLength="12.9" lengthAdjust="spacingAndGlyphs">105</text>
<text transform="translate(408.7 345.5) rotate(-90)" font-size="8.6" text-anchor="middle" fill="#1c1c1c" textLength="73.2" lengthAdjust="spacingAndGlyphs">% Unlabelled (M + 0)</text>
<text transform="translate(642.4 344.2) rotate(90)" font-size="8.6" text-anchor="middle" fill="#1c1c1c" textLength="79.8" lengthAdjust="spacingAndGlyphs">% <tspan font-size="6.2" dy="-3.3">13</tspan><tspan dy="3.3">C-Labelled (M + 6)</tspan></text>
<path d="M441.9 395.5V401.8" stroke="#1a1a1a" stroke-width="1"/>
<text x="441.9" y="411.7" font-size="9" text-anchor="middle" fill="#1c1c1c" textLength="10.4" lengthAdjust="spacingAndGlyphs">D0</text>
<path d="M458.45 395.5V401.8" stroke="#1a1a1a" stroke-width="1"/>
<text x="458.45" y="411.7" font-size="9" text-anchor="middle" fill="#1c1c1c" textLength="10.4" lengthAdjust="spacingAndGlyphs">D1</text>
<path d="M475 395.5V401.8" stroke="#1a1a1a" stroke-width="1"/>
<text x="475" y="411.7" font-size="9" text-anchor="middle" fill="#1c1c1c" textLength="10.4" lengthAdjust="spacingAndGlyphs">D3</text>
<path d="M491.55 395.5V401.8" stroke="#1a1a1a" stroke-width="1"/>
<text x="491.55" y="411.7" font-size="9" text-anchor="middle" fill="#1c1c1c" textLength="10.4" lengthAdjust="spacingAndGlyphs">D5</text>
<path d="M508.1 395.5V401.8" stroke="#1a1a1a" stroke-width="1"/>
<text x="508.1" y="411.7" font-size="9" text-anchor="middle" fill="#1c1c1c" textLength="10.4" lengthAdjust="spacingAndGlyphs">D7</text>
<path d="M535.75 395.5V401.8" stroke="#1a1a1a" stroke-width="1"/>
<text x="535.75" y="411.7" font-size="9" text-anchor="middle" fill="#1c1c1c" textLength="10.4" lengthAdjust="spacingAndGlyphs">D0</text>
<path d="M552.3 395.5V401.8" stroke="#1a1a1a" stroke-width="1"/>
<text x="552.3" y="411.7" font-size="9" text-anchor="middle" fill="#1c1c1c" textLength="10.4" lengthAdjust="spacingAndGlyphs">D1</text>
<path d="M568.85 395.5V401.8" stroke="#1a1a1a" stroke-width="1"/>
<text x="568.85" y="411.7" font-size="9" text-anchor="middle" fill="#1c1c1c" textLength="10.4" lengthAdjust="spacingAndGlyphs">D3</text>
<path d="M585.4 395.5V401.8" stroke="#1a1a1a" stroke-width="1"/>
<text x="585.4" y="411.7" font-size="9" text-anchor="middle" fill="#1c1c1c" textLength="10.4" lengthAdjust="spacingAndGlyphs">D5</text>
<path d="M601.95 395.5V401.8" stroke="#1a1a1a" stroke-width="1"/>
<text x="601.95" y="411.7" font-size="9" text-anchor="middle" fill="#1c1c1c" textLength="10.4" lengthAdjust="spacingAndGlyphs">D7</text>
<text x="522.3" y="425.7" font-size="8.6" text-anchor="middle" fill="#1c1c1c" textLength="95.4" lengthAdjust="spacingAndGlyphs">Treatment Timepoint (n = 3)</text>
<rect x="436.9" y="294.6" width="4.1" height="4.1" fill="#4a6db5" stroke="#111" stroke-width="0.7"/>
<text x="448" y="298.8" font-size="8.6" fill="#1c1c1c" textLength="36.8" lengthAdjust="spacingAndGlyphs">Unlabelled</text>
<rect x="522.1" y="294.6" width="4.1" height="4.1" fill="#639bd2" stroke="#111" stroke-width="0.7"/>
<text x="533.8" y="301" font-size="8.6" fill="#1c1c1c" textLength="70.8" lengthAdjust="spacingAndGlyphs">Fully Labelled (<tspan font-size="6.3" dy="-3.6">13</tspan><tspan dy="3.6">C</tspan><tspan font-size="6.3" dy="2.0">6</tspan><tspan dy="-2.0">)</tspan></text>
<rect x="436.85" y="368.2" width="10.1" height="27.3" fill="#4a6db5" stroke="#111" stroke-width="0.8"/>
<circle cx="438.1" cy="368.8" r="1.55" fill="#fff" stroke="#0a0a0a" stroke-width="0.9"/>
<circle cx="441.9" cy="366.4" r="1.55" fill="#fff" stroke="#0a0a0a" stroke-width="0.9"/>
<circle cx="445.7" cy="366.8" r="1.55" fill="#fff" stroke="#0a0a0a" stroke-width="0.9"/>
<rect x="453.4" y="372.1" width="10.1" height="23.4" fill="#4a6db5" stroke="#111" stroke-width="0.8"/>
<path d="M458.45 369.5V374M456.35 369.5H460.55M456.35 374H460.55" stroke="#111" stroke-width="0.8"/>
<circle cx="454.65" cy="368.8" r="1.55" fill="#fff" stroke="#0a0a0a" stroke-width="0.9"/>
<circle cx="454.65" cy="373" r="1.55" fill="#fff" stroke="#0a0a0a" stroke-width="0.9"/>
<circle cx="462.05" cy="372.1" r="1.55" fill="#fff" stroke="#0a0a0a" stroke-width="0.9"/>
<rect x="469.95" y="372.5" width="10.1" height="23" fill="#4a6db5" stroke="#111" stroke-width="0.8"/>
<path d="M475 368.2V374M472.9 368.2H477.1M472.9 374H477.1" stroke="#111" stroke-width="0.8"/>
<circle cx="475" cy="368.2" r="1.55" fill="#fff" stroke="#0a0a0a" stroke-width="0.9"/>
<circle cx="470.9" cy="373" r="1.55" fill="#fff" stroke="#0a0a0a" stroke-width="0.9"/>
<circle cx="478.9" cy="372.8" r="1.55" fill="#fff" stroke="#0a0a0a" stroke-width="0.9"/>
<rect x="486.5" y="380" width="10.1" height="15.5" fill="#4a6db5" stroke="#111" stroke-width="0.8"/>
<path d="M491.55 378.5V381.5M489.45 378.5H493.65M489.45 381.5H493.65" stroke="#111" stroke-width="0.8"/>
<circle cx="487.75" cy="379" r="1.55" fill="#fff" stroke="#0a0a0a" stroke-width="0.9"/>
<circle cx="487.75" cy="382.6" r="1.55" fill="#fff" stroke="#0a0a0a" stroke-width="0.9"/>
<circle cx="494.45" cy="380" r="1.55" fill="#fff" stroke="#0a0a0a" stroke-width="0.9"/>
<rect x="503.05" y="379.3" width="10.1" height="16.2" fill="#4a6db5" stroke="#111" stroke-width="0.8"/>
<path d="M508.1 376.5V381M506 376.5H510.2M506 381H510.2" stroke="#111" stroke-width="0.8"/>
<circle cx="504.1" cy="380" r="1.55" fill="#fff" stroke="#0a0a0a" stroke-width="0.9"/>
<circle cx="511.3" cy="377.4" r="1.55" fill="#fff" stroke="#0a0a0a" stroke-width="0.9"/>
<rect x="530.7" y="369.2" width="10.1" height="26.3" fill="#639bd2" stroke="#111" stroke-width="0.8"/>
<path d="M535.75 364.2V372M533.65 364.2H537.85M533.65 372H537.85" stroke="#111" stroke-width="0.8"/>
<circle cx="535.75" cy="364.2" r="1.55" fill="#fff" stroke="#0a0a0a" stroke-width="0.9"/>
<circle cx="531.85" cy="371.7" r="1.55" fill="#fff" stroke="#0a0a0a" stroke-width="0.9"/>
<circle cx="539.95" cy="369.1" r="1.55" fill="#fff" stroke="#0a0a0a" stroke-width="0.9"/>
<rect x="547.25" y="361.6" width="10.1" height="33.9" fill="#639bd2" stroke="#111" stroke-width="0.8"/>
<circle cx="548.2" cy="362.5" r="1.55" fill="#fff" stroke="#0a0a0a" stroke-width="0.9"/>
<circle cx="552.2" cy="361" r="1.55" fill="#fff" stroke="#0a0a0a" stroke-width="0.9"/>
<circle cx="555.7" cy="361" r="1.55" fill="#fff" stroke="#0a0a0a" stroke-width="0.9"/>
<rect x="563.8" y="360.6" width="10.1" height="34.9" fill="#639bd2" stroke="#111" stroke-width="0.8"/>
<path d="M568.85 354.8V366.5M566.75 354.8H570.95M566.75 366.5H570.95" stroke="#111" stroke-width="0.8"/>
<circle cx="565.05" cy="354.8" r="1.55" fill="#fff" stroke="#0a0a0a" stroke-width="0.9"/>
<circle cx="568.25" cy="367.5" r="1.55" fill="#fff" stroke="#0a0a0a" stroke-width="0.9"/>
<circle cx="572.55" cy="358" r="1.55" fill="#fff" stroke="#0a0a0a" stroke-width="0.9"/>
<rect x="580.35" y="355.3" width="10.1" height="40.2" fill="#639bd2" stroke="#111" stroke-width="0.8"/>
<path d="M585.4 350.4V361M583.3 350.4H587.5M583.3 361H587.5" stroke="#111" stroke-width="0.8"/>
<circle cx="585.4" cy="350.4" r="1.55" fill="#fff" stroke="#0a0a0a" stroke-width="0.9"/>
<circle cx="585.4" cy="354.4" r="1.55" fill="#fff" stroke="#0a0a0a" stroke-width="0.9"/>
<circle cx="585.4" cy="361" r="1.55" fill="#fff" stroke="#0a0a0a" stroke-width="0.9"/>
<rect x="596.9" y="364.5" width="10.1" height="31" fill="#639bd2" stroke="#111" stroke-width="0.8"/>
<path d="M601.95 360V369M599.85 360H604.05M599.85 369H604.05" stroke="#111" stroke-width="0.8"/>
<circle cx="597.95" cy="360" r="1.55" fill="#fff" stroke="#0a0a0a" stroke-width="0.9"/>
<circle cx="601.95" cy="368.8" r="1.55" fill="#fff" stroke="#0a0a0a" stroke-width="0.9"/>
<circle cx="605.95" cy="362.3" r="1.55" fill="#fff" stroke="#0a0a0a" stroke-width="0.9"/>
<path d="M441.9 355.5H458.45" stroke="#262626" stroke-width="1"/>
<text x="450.17" y="352.2" font-size="5.9" text-anchor="middle" fill="#1c1c1c" textLength="26" lengthAdjust="spacingAndGlyphs">P = 0.3671</text>
<path d="M441.9 343.5H475" stroke="#262626" stroke-width="1"/>
<text x="458.45" y="340.2" font-size="5.9" text-anchor="middle" fill="#1c1c1c" textLength="26" lengthAdjust="spacingAndGlyphs">P = 0.3671</text>
<path d="M441.9 331.5H491.55" stroke="#262626" stroke-width="1"/>
<text x="466.72" y="328.2" font-size="5.9" text-anchor="middle" fill="#1c1c1c" textLength="26" lengthAdjust="spacingAndGlyphs">P = 0.0012</text>
<path d="M441.9 320.5H508.1" stroke="#262626" stroke-width="1"/>
<text x="475" y="317.2" font-size="5.9" text-anchor="middle" fill="#1c1c1c" textLength="26" lengthAdjust="spacingAndGlyphs">P = 0.0074</text>
<path d="M535.75 354.5H552.3" stroke="#262626" stroke-width="1"/>
<text x="544.02" y="351.2" font-size="5.9" text-anchor="middle" fill="#1c1c1c" textLength="26" lengthAdjust="spacingAndGlyphs">P = 0.0445</text>
<path d="M535.75 340.5H568.85" stroke="#262626" stroke-width="1"/>
<text x="552.3" y="337.2" font-size="5.9" text-anchor="middle" fill="#1c1c1c" textLength="26" lengthAdjust="spacingAndGlyphs">P = 0.0272</text>
<path d="M535.75 329.5H585.4" stroke="#262626" stroke-width="1"/>
<text x="560.58" y="326.2" font-size="5.9" text-anchor="middle" fill="#1c1c1c" textLength="26" lengthAdjust="spacingAndGlyphs">P = 0.0007</text>
<path d="M535.75 318.5H601.95" stroke="#262626" stroke-width="1"/>
<text x="568.85" y="315.2" font-size="5.9" text-anchor="middle" fill="#1c1c1c" textLength="26" lengthAdjust="spacingAndGlyphs">P = 0.1171</text>
</g>
<g>
<text x="233.75" y="541" font-size="8.3" text-anchor="middle" font-weight="bold" fill="#111">G3P</text>
<path d="M142.5 549.5H324.5M142.5 549.5V654.5H324.5V549.5" fill="none" stroke="#1a1a1a" stroke-width="1"/>
<path d="M135.3 654.5H142.5" stroke="#1a1a1a" stroke-width="1"/>
<text x="133.1" y="657.2" font-size="8.5" text-anchor="end" fill="#1c1c1c" textLength="4.3" lengthAdjust="spacingAndGlyphs">0</text>
<path d="M135.3 619.5H142.5" stroke="#1a1a1a" stroke-width="1"/>
<text x="133.1" y="622.2" font-size="8.5" text-anchor="end" fill="#1c1c1c" textLength="8.6" lengthAdjust="spacingAndGlyphs">10</text>
<path d="M135.3 584.5H142.5" stroke="#1a1a1a" stroke-width="1"/>
<text x="133.1" y="587.2" font-size="8.5" text-anchor="end" fill="#1c1c1c" textLength="8.6" lengthAdjust="spacingAndGlyphs">20</text>
<path d="M135.3 549.5H142.5" stroke="#1a1a1a" stroke-width="1"/>
<text x="133.1" y="552.2" font-size="8.5" text-anchor="end" fill="#1c1c1c" textLength="8.6" lengthAdjust="spacingAndGlyphs">30</text>
<path d="M324.5 654.5H332.8" stroke="#1a1a1a" stroke-width="1"/>
<text x="335.7" y="657.3" font-size="8.5" fill="#1c1c1c" textLength="8.6" lengthAdjust="spacingAndGlyphs">80</text>
<path d="M324.5 619.5H332.8" stroke="#1a1a1a" stroke-width="1"/>
<text x="335.7" y="622.3" font-size="8.5" fill="#1c1c1c" textLength="8.6" lengthAdjust="spacingAndGlyphs">90</text>
<path d="M324.5 584.5H332.8" stroke="#1a1a1a" stroke-width="1"/>
<text x="335.7" y="587.3" font-size="8.5" fill="#1c1c1c" textLength="12.9" lengthAdjust="spacingAndGlyphs">100</text>
<path d="M324.5 549.5H332.8" stroke="#1a1a1a" stroke-width="1"/>
<text x="335.7" y="552.3" font-size="8.5" fill="#1c1c1c" textLength="12.9" lengthAdjust="spacingAndGlyphs">110</text>
<text transform="translate(120.2 604.5) rotate(-90)" font-size="8.6" text-anchor="middle" fill="#1c1c1c" textLength="73.2" lengthAdjust="spacingAndGlyphs">% Unlabelled (M + 0)</text>
<text transform="translate(353.9 603.2) rotate(90)" font-size="8.6" text-anchor="middle" fill="#1c1c1c" textLength="79.8" lengthAdjust="spacingAndGlyphs">% <tspan font-size="6.2" dy="-3.3">13</tspan><tspan dy="3.3">C-Labelled (M + 3)</tspan></text>
<path d="M153.4 654.5V660.8" stroke="#1a1a1a" stroke-width="1"/>
<text x="153.4" y="670.7" font-size="9" text-anchor="middle" fill="#1c1c1c" textLength="10.4" lengthAdjust="spacingAndGlyphs">D0</text>
<path d="M169.95 654.5V660.8" stroke="#1a1a1a" stroke-width="1"/>
<text x="169.95" y="670.7" font-size="9" text-anchor="middle" fill="#1c1c1c" textLength="10.4" lengthAdjust="spacingAndGlyphs">D1</text>
<path d="M186.5 654.5V660.8" stroke="#1a1a1a" stroke-width="1"/>
<text x="186.5" y="670.7" font-size="9" text-anchor="middle" fill="#1c1c1c" textLength="10.4" lengthAdjust="spacingAndGlyphs">D3</text>
<path d="M203.05 654.5V660.8" stroke="#1a1a1a" stroke-width="1"/>
<text x="203.05" y="670.7" font-size="9" text-anchor="middle" fill="#1c1c1c" textLength="10.4" lengthAdjust="spacingAndGlyphs">D5</text>
<path d="M219.6 654.5V660.8" stroke="#1a1a1a" stroke-width="1"/>
<text x="219.6" y="670.7" font-size="9" text-anchor="middle" fill="#1c1c1c" textLength="10.4" lengthAdjust="spacingAndGlyphs">D7</text>
<path d="M247.25 654.5V660.8" stroke="#1a1a1a" stroke-width="1"/>
<text x="247.25" y="670.7" font-size="9" text-anchor="middle" fill="#1c1c1c" textLength="10.4" lengthAdjust="spacingAndGlyphs">D0</text>
<path d="M263.8 654.5V660.8" stroke="#1a1a1a" stroke-width="1"/>
<text x="263.8" y="670.7" font-size="9" text-anchor="middle" fill="#1c1c1c" textLength="10.4" lengthAdjust="spacingAndGlyphs">D1</text>
<path d="M280.35 654.5V660.8" stroke="#1a1a1a" stroke-width="1"/>
<text x="280.35" y="670.7" font-size="9" text-anchor="middle" fill="#1c1c1c" textLength="10.4" lengthAdjust="spacingAndGlyphs">D3</text>
<path d="M296.9 654.5V660.8" stroke="#1a1a1a" stroke-width="1"/>
<text x="296.9" y="670.7" font-size="9" text-anchor="middle" fill="#1c1c1c" textLength="10.4" lengthAdjust="spacingAndGlyphs">D5</text>
<path d="M313.45 654.5V660.8" stroke="#1a1a1a" stroke-width="1"/>
<text x="313.45" y="670.7" font-size="9" text-anchor="middle" fill="#1c1c1c" textLength="10.4" lengthAdjust="spacingAndGlyphs">D7</text>
<text x="233.8" y="684.7" font-size="8.6" text-anchor="middle" fill="#1c1c1c" textLength="95.4" lengthAdjust="spacingAndGlyphs">Treatment Timepoint (n = 3)</text>
<rect x="148.4" y="553.6" width="4.1" height="4.1" fill="#4a6db5" stroke="#111" stroke-width="0.7"/>
<text x="159.5" y="557.8" font-size="8.6" fill="#1c1c1c" textLength="36.8" lengthAdjust="spacingAndGlyphs">Unlabelled</text>
<rect x="239.5" y="553.6" width="4.1" height="4.1" fill="#639bd2" stroke="#111" stroke-width="0.7"/>
<text x="250.8" y="560" font-size="8.6" fill="#1c1c1c" textLength="70.8" lengthAdjust="spacingAndGlyphs">Fully Labelled (<tspan font-size="6.3" dy="-3.6">13</tspan><tspan dy="3.6">C</tspan><tspan font-size="6.3" dy="2.0">3</tspan><tspan dy="-2.0">)</tspan></text>
<rect x="148.35" y="619.3" width="10.1" height="35.2" fill="#4a6db5" stroke="#111" stroke-width="0.8"/>
<path d="M153.4 606.2V631.8M151.3 606.2H155.5M151.3 631.8H155.5" stroke="#111" stroke-width="0.8"/>
<circle cx="153.4" cy="606.2" r="1.55" fill="#fff" stroke="#0a0a0a" stroke-width="0.9"/>
<circle cx="153.4" cy="618" r="1.55" fill="#fff" stroke="#0a0a0a" stroke-width="0.9"/>
<circle cx="153.4" cy="631.8" r="1.55" fill="#fff" stroke="#0a0a0a" stroke-width="0.9"/>
<rect x="164.9" y="609.2" width="10.1" height="45.3" fill="#4a6db5" stroke="#111" stroke-width="0.8"/>
<path d="M169.95 603.5V614.4M167.85 603.5H172.05M167.85 614.4H172.05" stroke="#111" stroke-width="0.8"/>
<circle cx="169.95" cy="603.5" r="1.55" fill="#fff" stroke="#0a0a0a" stroke-width="0.9"/>
<circle cx="169.95" cy="608.1" r="1.55" fill="#fff" stroke="#0a0a0a" stroke-width="0.9"/>
<circle cx="169.95" cy="614.4" r="1.55" fill="#fff" stroke="#0a0a0a" stroke-width="0.9"/>
<rect x="181.45" y="642.3" width="10.1" height="12.2" fill="#4a6db5" stroke="#111" stroke-width="0.8"/>
<path d="M186.5 637V644M184.4 637H188.6M184.4 644H188.6" stroke="#111" stroke-width="0.8"/>
<circle cx="186.5" cy="637" r="1.55" fill="#fff" stroke="#0a0a0a" stroke-width="0.9"/>
<circle cx="183" cy="643.9" r="1.55" fill="#fff" stroke="#0a0a0a" stroke-width="0.9"/>
<circle cx="190.3" cy="643" r="1.55" fill="#fff" stroke="#0a0a0a" stroke-width="0.9"/>
<rect x="198" y="619.3" width="10.1" height="35.2" fill="#4a6db5" stroke="#111" stroke-width="0.8"/>
<path d="M203.05 607.5V632.4M200.95 607.5H205.15M200.95 632.4H205.15" stroke="#111" stroke-width="0.8"/>
<circle cx="199.45" cy="610.8" r="1.55" fill="#fff" stroke="#0a0a0a" stroke-width="0.9"/>
<circle cx="207.45" cy="614" r="1.55" fill="#fff" stroke="#0a0a0a" stroke-width="0.9"/>
<circle cx="203.05" cy="632.4" r="1.55" fill="#fff" stroke="#0a0a0a" stroke-width="0.9"/>
<rect x="214.55" y="613.4" width="10.1" height="41.1" fill="#4a6db5" stroke="#111" stroke-width="0.8"/>
<path d="M219.6 608.8V616.5M217.5 608.8H221.7M217.5 616.5H221.7" stroke="#111" stroke-width="0.8"/>
<circle cx="219.6" cy="608.8" r="1.55" fill="#fff" stroke="#0a0a0a" stroke-width="0.9"/>
<circle cx="216.2" cy="616" r="1.55" fill="#fff" stroke="#0a0a0a" stroke-width="0.9"/>
<circle cx="223.3" cy="614.4" r="1.55" fill="#fff" stroke="#0a0a0a" stroke-width="0.9"/>
<rect x="242.2" y="620.2" width="10.1" height="34.3" fill="#639bd2" stroke="#111" stroke-width="0.8"/>
<path d="M247.25 606.8V632.4M245.15 606.8H249.35M245.15 632.4H249.35" stroke="#111" stroke-width="0.8"/>
<circle cx="247.25" cy="606.8" r="1.55" fill="#fff" stroke="#0a0a0a" stroke-width="0.9"/>
<circle cx="247.25" cy="620.6" r="1.55" fill="#fff" stroke="#0a0a0a" stroke-width="0.9"/>
<circle cx="247.25" cy="632.4" r="1.55" fill="#fff" stroke="#0a0a0a" stroke-width="0.9"/>
<rect x="258.75" y="630.2" width="10.1" height="24.3" fill="#639bd2" stroke="#111" stroke-width="0.8"/>
<path d="M263.8 624.2V635M261.7 624.2H265.9M261.7 635H265.9" stroke="#111" stroke-width="0.8"/>
<circle cx="263.8" cy="624.2" r="1.55" fill="#fff" stroke="#0a0a0a" stroke-width="0.9"/>
<circle cx="263.8" cy="631.1" r="1.55" fill="#fff" stroke="#0a0a0a" stroke-width="0.9"/>
<circle cx="263.8" cy="635" r="1.55" fill="#fff" stroke="#0a0a0a" stroke-width="0.9"/>
<rect x="275.3" y="596.6" width="10.1" height="57.9" fill="#639bd2" stroke="#111" stroke-width="0.8"/>
<path d="M280.35 594.3V601.6M278.25 594.3H282.45M278.25 601.6H282.45" stroke="#111" stroke-width="0.8"/>
<circle cx="276.35" cy="594.3" r="1.55" fill="#fff" stroke="#0a0a0a" stroke-width="0.9"/>
<circle cx="280.35" cy="601.6" r="1.55" fill="#fff" stroke="#0a0a0a" stroke-width="0.9"/>
<circle cx="284.35" cy="595.6" r="1.55" fill="#fff" stroke="#0a0a0a" stroke-width="0.9"/>
<rect x="291.85" y="620.2" width="10.1" height="34.3" fill="#639bd2" stroke="#111" stroke-width="0.8"/>
<path d="M296.9 606.2V631M294.8 606.2H299M294.8 631H299" stroke="#111" stroke-width="0.8"/>
<circle cx="296.9" cy="606.2" r="1.55" fill="#fff" stroke="#0a0a0a" stroke-width="0.9"/>
<circle cx="293.2" cy="627.8" r="1.55" fill="#fff" stroke="#0a0a0a" stroke-width="0.9"/>
<circle cx="301" cy="624.5" r="1.55" fill="#fff" stroke="#0a0a0a" stroke-width="0.9"/>
<rect x="308.4" y="625.9" width="10.1" height="28.6" fill="#639bd2" stroke="#111" stroke-width="0.8"/>
<path d="M313.45 622.5V629.4M311.35 622.5H315.55M311.35 629.4H315.55" stroke="#111" stroke-width="0.8"/>
<circle cx="309.95" cy="623.2" r="1.55" fill="#fff" stroke="#0a0a0a" stroke-width="0.9"/>
<circle cx="313.45" cy="629.4" r="1.55" fill="#fff" stroke="#0a0a0a" stroke-width="0.9"/>
<circle cx="316.95" cy="624.5" r="1.55" fill="#fff" stroke="#0a0a0a" stroke-width="0.9"/>
<path d="M153.4 601.5H169.95" stroke="#262626" stroke-width="1"/>
<text x="161.68" y="598.2" font-size="5.9" text-anchor="middle" fill="#1c1c1c" textLength="26" lengthAdjust="spacingAndGlyphs">P = 0.4063</text>
<path d="M153.4 590.5H186.5" stroke="#262626" stroke-width="1"/>
<text x="169.95" y="587.2" font-size="5.9" text-anchor="middle" fill="#1c1c1c" textLength="26" lengthAdjust="spacingAndGlyphs">P = 0.0135</text>
<path d="M153.4 579.5H203.05" stroke="#262626" stroke-width="1"/>
<text x="178.23" y="576.2" font-size="5.9" text-anchor="middle" fill="#1c1c1c" textLength="26" lengthAdjust="spacingAndGlyphs">P = 0.9528</text>
<path d="M153.4 569.5H219.6" stroke="#262626" stroke-width="1"/>
<text x="186.5" y="566.2" font-size="5.9" text-anchor="middle" fill="#1c1c1c" textLength="26" lengthAdjust="spacingAndGlyphs">P = 0.6639</text>
<path d="M247.25 602.5H263.8" stroke="#262626" stroke-width="1"/>
<text x="255.53" y="599.2" font-size="5.9" text-anchor="middle" fill="#1c1c1c" textLength="26" lengthAdjust="spacingAndGlyphs">P = 0.4063</text>
<path d="M247.25 591.5H280.35" stroke="#262626" stroke-width="1"/>
<text x="263.8" y="588.2" font-size="5.9" text-anchor="middle" fill="#1c1c1c" textLength="26" lengthAdjust="spacingAndGlyphs">P = 0.0135</text>
<path d="M247.25 581.5H296.9" stroke="#262626" stroke-width="1"/>
<text x="272.07" y="578.2" font-size="5.9" text-anchor="middle" fill="#1c1c1c" textLength="26" lengthAdjust="spacingAndGlyphs">P = 0.9528</text>
<path d="M247.25 571.5H313.45" stroke="#262626" stroke-width="1"/>
<text x="280.35" y="568.2" font-size="5.9" text-anchor="middle" fill="#1c1c1c" textLength="26" lengthAdjust="spacingAndGlyphs">P = 0.6639</text>
</g>
<g>
<text x="522.25" y="541" font-size="8.3" text-anchor="middle" font-weight="bold" fill="#111">3PG</text>
<path d="M431 549.5H613M431 549.5V654.5H613V549.5" fill="none" stroke="#1a1a1a" stroke-width="1"/>
<path d="M423.8 654.5H431" stroke="#1a1a1a" stroke-width="1"/>
<text x="421.6" y="657.2" font-size="8.5" text-anchor="end" fill="#1c1c1c" textLength="4.3" lengthAdjust="spacingAndGlyphs">0</text>
<path d="M423.8 628.25H431" stroke="#1a1a1a" stroke-width="1"/>
<text x="421.6" y="630.95" font-size="8.5" text-anchor="end" fill="#1c1c1c" textLength="4.3" lengthAdjust="spacingAndGlyphs">5</text>
<path d="M423.8 602H431" stroke="#1a1a1a" stroke-width="1"/>
<text x="421.6" y="604.7" font-size="8.5" text-anchor="end" fill="#1c1c1c" textLength="8.6" lengthAdjust="spacingAndGlyphs">10</text>
<path d="M423.8 575.75H431" stroke="#1a1a1a" stroke-width="1"/>
<text x="421.6" y="578.45" font-size="8.5" text-anchor="end" fill="#1c1c1c" textLength="8.6" lengthAdjust="spacingAndGlyphs">15</text>
<path d="M423.8 549.5H431" stroke="#1a1a1a" stroke-width="1"/>
<text x="421.6" y="552.2" font-size="8.5" text-anchor="end" fill="#1c1c1c" textLength="8.6" lengthAdjust="spacingAndGlyphs">20</text>
<path d="M613 654.5H621.3" stroke="#1a1a1a" stroke-width="1"/>
<text x="624.2" y="657.3" font-size="8.5" fill="#1c1c1c" textLength="8.6" lengthAdjust="spacingAndGlyphs">90</text>
<path d="M613 633.5H621.3" stroke="#1a1a1a" stroke-width="1"/>
<text x="624.2" y="636.3" font-size="8.5" fill="#1c1c1c" textLength="8.6" lengthAdjust="spacingAndGlyphs">92</text>
<path d="M613 612.5H621.3" stroke="#1a1a1a" stroke-width="1"/>
<text x="624.2" y="615.3" font-size="8.5" fill="#1c1c1c" textLength="8.6" lengthAdjust="spacingAndGlyphs">94</text>
<path d="M613 591.5H621.3" stroke="#1a1a1a" stroke-width="1"/>
<text x="624.2" y="594.3" font-size="8.5" fill="#1c1c1c" textLength="8.6" lengthAdjust="spacingAndGlyphs">96</text>
<path d="M613 570.5H621.3" stroke="#1a1a1a" stroke-width="1"/>
<text x="624.2" y="573.3" font-size="8.5" fill="#1c1c1c" textLength="8.6" lengthAdjust="spacingAndGlyphs">98</text>
<path d="M613 549.5H621.3" stroke="#1a1a1a" stroke-width="1"/>
<text x="624.2" y="552.3" font-size="8.5" fill="#1c1c1c" textLength="12.9" lengthAdjust="spacingAndGlyphs">100</text>
<text transform="translate(408.7 604.5) rotate(-90)" font-size="8.6" text-anchor="middle" fill="#1c1c1c" textLength="73.2" lengthAdjust="spacingAndGlyphs">% Unlabelled (M + 0)</text>
<text transform="translate(642.4 603.2) rotate(90)" font-size="8.6" text-anchor="middle" fill="#1c1c1c" textLength="79.8" lengthAdjust="spacingAndGlyphs">% <tspan font-size="6.2" dy="-3.3">13</tspan><tspan dy="3.3">C-Labelled (M + 3)</tspan></text>
<path d="M441.9 654.5V660.8" stroke="#1a1a1a" stroke-width="1"/>
<text x="441.9" y="670.7" font-size="9" text-anchor="middle" fill="#1c1c1c" textLength="10.4" lengthAdjust="spacingAndGlyphs">D0</text>
<path d="M458.45 654.5V660.8" stroke="#1a1a1a" stroke-width="1"/>
<text x="458.45" y="670.7" font-size="9" text-anchor="middle" fill="#1c1c1c" textLength="10.4" lengthAdjust="spacingAndGlyphs">D1</text>
<path d="M475 654.5V660.8" stroke="#1a1a1a" stroke-width="1"/>
<text x="475" y="670.7" font-size="9" text-anchor="middle" fill="#1c1c1c" textLength="10.4" lengthAdjust="spacingAndGlyphs">D3</text>
<path d="M491.55 654.5V660.8" stroke="#1a1a1a" stroke-width="1"/>
<text x="491.55" y="670.7" font-size="9" text-anchor="middle" fill="#1c1c1c" textLength="10.4" lengthAdjust="spacingAndGlyphs">D5</text>
<path d="M508.1 654.5V660.8" stroke="#1a1a1a" stroke-width="1"/>
<text x="508.1" y="670.7" font-size="9" text-anchor="middle" fill="#1c1c1c" textLength="10.4" lengthAdjust="spacingAndGlyphs">D7</text>
<path d="M535.75 654.5V660.8" stroke="#1a1a1a" stroke-width="1"/>
<text x="535.75" y="670.7" font-size="9" text-anchor="middle" fill="#1c1c1c" textLength="10.4" lengthAdjust="spacingAndGlyphs">D0</text>
<path d="M552.3 654.5V660.8" stroke="#1a1a1a" stroke-width="1"/>
<text x="552.3" y="670.7" font-size="9" text-anchor="middle" fill="#1c1c1c" textLength="10.4" lengthAdjust="spacingAndGlyphs">D1</text>
<path d="M568.85 654.5V660.8" stroke="#1a1a1a" stroke-width="1"/>
<text x="568.85" y="670.7" font-size="9" text-anchor="middle" fill="#1c1c1c" textLength="10.4" lengthAdjust="spacingAndGlyphs">D3</text>
<path d="M585.4 654.5V660.8" stroke="#1a1a1a" stroke-width="1"/>
<text x="585.4" y="670.7" font-size="9" text-anchor="middle" fill="#1c1c1c" textLength="10.4" lengthAdjust="spacingAndGlyphs">D5</text>
<path d="M601.95 654.5V660.8" stroke="#1a1a1a" stroke-width="1"/>
<text x="601.95" y="670.7" font-size="9" text-anchor="middle" fill="#1c1c1c" textLength="10.4" lengthAdjust="spacingAndGlyphs">D7</text>
<text x="522.3" y="684.7" font-size="8.6" text-anchor="middle" fill="#1c1c1c" textLength="95.4" lengthAdjust="spacingAndGlyphs">Treatment Timepoint (n = 3)</text>
<rect x="436.9" y="553.6" width="4.1" height="4.1" fill="#4a6db5" stroke="#111" stroke-width="0.7"/>
<text x="448" y="557.8" font-size="8.6" fill="#1c1c1c" textLength="36.8" lengthAdjust="spacingAndGlyphs">Unlabelled</text>
<rect x="523.5" y="553.6" width="4.1" height="4.1" fill="#639bd2" stroke="#111" stroke-width="0.7"/>
<text x="535.8" y="560" font-size="8.6" fill="#1c1c1c" textLength="70.8" lengthAdjust="spacingAndGlyphs">Fully Labelled (<tspan font-size="6.3" dy="-3.6">13</tspan><tspan dy="3.6">C</tspan><tspan font-size="6.3" dy="2.0">3</tspan><tspan dy="-2.0">)</tspan></text>
<rect x="436.85" y="619.3" width="10.1" height="35.2" fill="#4a6db5" stroke="#111" stroke-width="0.8"/>
<path d="M441.9 615.5V622.5M439.8 615.5H444M439.8 622.5H444" stroke="#111" stroke-width="0.8"/>
<circle cx="438.1" cy="616" r="1.55" fill="#fff" stroke="#0a0a0a" stroke-width="0.9"/>
<circle cx="442.1" cy="623.2" r="1.55" fill="#fff" stroke="#0a0a0a" stroke-width="0.9"/>
<circle cx="446" cy="617" r="1.55" fill="#fff" stroke="#0a0a0a" stroke-width="0.9"/>
<rect x="453.4" y="618.2" width="10.1" height="36.3" fill="#4a6db5" stroke="#111" stroke-width="0.8"/>
<path d="M458.45 613.6V621M456.35 613.6H460.55M456.35 621H460.55" stroke="#111" stroke-width="0.8"/>
<circle cx="458.65" cy="613.6" r="1.55" fill="#fff" stroke="#0a0a0a" stroke-width="0.9"/>
<circle cx="455.05" cy="621" r="1.55" fill="#fff" stroke="#0a0a0a" stroke-width="0.9"/>
<circle cx="462.15" cy="617.7" r="1.55" fill="#fff" stroke="#0a0a0a" stroke-width="0.9"/>
<rect x="469.95" y="615.4" width="10.1" height="39.1" fill="#4a6db5" stroke="#111" stroke-width="0.8"/>
<path d="M475 612V617.5M472.9 612H477.1M472.9 617.5H477.1" stroke="#111" stroke-width="0.8"/>
<circle cx="471.2" cy="611.4" r="1.55" fill="#fff" stroke="#0a0a0a" stroke-width="0.9"/>
<circle cx="471.2" cy="617" r="1.55" fill="#fff" stroke="#0a0a0a" stroke-width="0.9"/>
<circle cx="478.8" cy="614" r="1.55" fill="#fff" stroke="#0a0a0a" stroke-width="0.9"/>
<rect x="486.5" y="622.2" width="10.1" height="32.3" fill="#4a6db5" stroke="#111" stroke-width="0.8"/>
<path d="M491.55 616.7V623M489.45 616.7H493.65M489.45 623H493.65" stroke="#111" stroke-width="0.8"/>
<circle cx="491.75" cy="616.7" r="1.55" fill="#fff" stroke="#0a0a0a" stroke-width="0.9"/>
<circle cx="488.25" cy="622.8" r="1.55" fill="#fff" stroke="#0a0a0a" stroke-width="0.9"/>
<circle cx="495.25" cy="622.6" r="1.55" fill="#fff" stroke="#0a0a0a" stroke-width="0.9"/>
<rect x="503.05" y="607.5" width="10.1" height="47" fill="#4a6db5" stroke="#111" stroke-width="0.8"/>
<path d="M508.1 602.9V608M506 602.9H510.2M506 608H510.2" stroke="#111" stroke-width="0.8"/>
<circle cx="508.3" cy="602.9" r="1.55" fill="#fff" stroke="#0a0a0a" stroke-width="0.9"/>
<circle cx="504.5" cy="607.2" r="1.55" fill="#fff" stroke="#0a0a0a" stroke-width="0.9"/>
<circle cx="512" cy="606.8" r="1.55" fill="#fff" stroke="#0a0a0a" stroke-width="0.9"/>
<rect x="530.7" y="620.2" width="10.1" height="34.3" fill="#639bd2" stroke="#111" stroke-width="0.8"/>
<path d="M535.75 610.8V627.8M533.65 610.8H537.85M533.65 627.8H537.85" stroke="#111" stroke-width="0.8"/>
<circle cx="535.75" cy="610.8" r="1.55" fill="#fff" stroke="#0a0a0a" stroke-width="0.9"/>
<circle cx="531.75" cy="625.6" r="1.55" fill="#fff" stroke="#0a0a0a" stroke-width="0.9"/>
<circle cx="539.45" cy="623.2" r="1.55" fill="#fff" stroke="#0a0a0a" stroke-width="0.9"/>
<rect x="547.25" y="622.2" width="10.1" height="32.3" fill="#639bd2" stroke="#111" stroke-width="0.8"/>
<path d="M552.3 615V629.8M550.2 615H554.4M550.2 629.8H554.4" stroke="#111" stroke-width="0.8"/>
<circle cx="552.3" cy="615" r="1.55" fill="#fff" stroke="#0a0a0a" stroke-width="0.9"/>
<circle cx="552.3" cy="621" r="1.55" fill="#fff" stroke="#0a0a0a" stroke-width="0.9"/>
<circle cx="552.3" cy="629.8" r="1.55" fill="#fff" stroke="#0a0a0a" stroke-width="0.9"/>
<rect x="563.8" y="629.1" width="10.1" height="25.4" fill="#639bd2" stroke="#111" stroke-width="0.8"/>
<path d="M568.85 623.2V634.1M566.75 623.2H570.95M566.75 634.1H570.95" stroke="#111" stroke-width="0.8"/>
<circle cx="568.85" cy="623.2" r="1.55" fill="#fff" stroke="#0a0a0a" stroke-width="0.9"/>
<circle cx="568.85" cy="628.9" r="1.55" fill="#fff" stroke="#0a0a0a" stroke-width="0.9"/>
<circle cx="568.85" cy="634.1" r="1.55" fill="#fff" stroke="#0a0a0a" stroke-width="0.9"/>
<rect x="580.35" y="616.3" width="10.1" height="38.2" fill="#639bd2" stroke="#111" stroke-width="0.8"/>
<path d="M585.4 610.8V623.9M583.3 610.8H587.5M583.3 623.9H587.5" stroke="#111" stroke-width="0.8"/>
<circle cx="581" cy="611.4" r="1.55" fill="#fff" stroke="#0a0a0a" stroke-width="0.9"/>
<circle cx="585.4" cy="623.9" r="1.55" fill="#fff" stroke="#0a0a0a" stroke-width="0.9"/>
<circle cx="589.2" cy="612.7" r="1.55" fill="#fff" stroke="#0a0a0a" stroke-width="0.9"/>
<rect x="596.9" y="646.2" width="10.1" height="8.3" fill="#639bd2" stroke="#111" stroke-width="0.8"/>
<path d="M601.95 642V650.4M599.85 642H604.05M599.85 650.4H604.05" stroke="#111" stroke-width="0.8"/>
<circle cx="597.95" cy="642.5" r="1.55" fill="#fff" stroke="#0a0a0a" stroke-width="0.9"/>
<circle cx="601.95" cy="650.4" r="1.55" fill="#fff" stroke="#0a0a0a" stroke-width="0.9"/>
<circle cx="605.95" cy="643.3" r="1.55" fill="#fff" stroke="#0a0a0a" stroke-width="0.9"/>
<path d="M441.9 607.5H458.45" stroke="#262626" stroke-width="1"/>
<text x="450.17" y="604.2" font-size="5.9" text-anchor="middle" fill="#1c1c1c" textLength="26" lengthAdjust="spacingAndGlyphs">P = 0.7092</text>
<path d="M441.9 595.5H475" stroke="#262626" stroke-width="1"/>
<text x="458.45" y="592.2" font-size="5.9" text-anchor="middle" fill="#1c1c1c" textLength="26" lengthAdjust="spacingAndGlyphs">P = 0.3154</text>
<path d="M441.9 583.5H491.55" stroke="#262626" stroke-width="1"/>
<text x="466.72" y="580.2" font-size="5.9" text-anchor="middle" fill="#1c1c1c" textLength="26" lengthAdjust="spacingAndGlyphs">P = 0.7023</text>
<path d="M441.9 571.5H508.1" stroke="#262626" stroke-width="1"/>
<text x="475" y="568.2" font-size="5.9" text-anchor="middle" fill="#1c1c1c" textLength="26" lengthAdjust="spacingAndGlyphs">P = 0.0005</text>
<path d="M535.75 605.5H552.3" stroke="#262626" stroke-width="1"/>
<text x="544.02" y="602.2" font-size="5.9" text-anchor="middle" fill="#1c1c1c" textLength="26" lengthAdjust="spacingAndGlyphs">P = 0.7092</text>
<path d="M535.75 593.5H568.85" stroke="#262626" stroke-width="1"/>
<text x="552.3" y="590.2" font-size="5.9" text-anchor="middle" fill="#1c1c1c" textLength="26" lengthAdjust="spacingAndGlyphs">P = 0.3154</text>
<path d="M535.75 582.5H585.4" stroke="#262626" stroke-width="1"/>
<text x="560.58" y="579.2" font-size="5.9" text-anchor="middle" fill="#1c1c1c" textLength="26" lengthAdjust="spacingAndGlyphs">P = 0.7023</text>
<path d="M535.75 573.5H601.95" stroke="#262626" stroke-width="1"/>
<text x="568.85" y="570.2" font-size="5.9" text-anchor="middle" fill="#1c1c1c" textLength="26" lengthAdjust="spacingAndGlyphs">P = 0.0005</text>
</g>
<g>
<text x="233.75" y="739" font-size="8.3" text-anchor="middle" font-weight="bold" fill="#111">PEP</text>
<path d="M142.5 747.5H324.5M142.5 747.5V852.5H324.5V747.5" fill="none" stroke="#1a1a1a" stroke-width="1"/>
<path d="M135.3 852.5H142.5" stroke="#1a1a1a" stroke-width="1"/>
<text x="133.1" y="855.2" font-size="8.5" text-anchor="end" fill="#1c1c1c" textLength="4.3" lengthAdjust="spacingAndGlyphs">0</text>
<path d="M135.3 817.5H142.5" stroke="#1a1a1a" stroke-width="1"/>
<text x="133.1" y="820.2" font-size="8.5" text-anchor="end" fill="#1c1c1c" textLength="8.6" lengthAdjust="spacingAndGlyphs">10</text>
<path d="M135.3 782.5H142.5" stroke="#1a1a1a" stroke-width="1"/>
<text x="133.1" y="785.2" font-size="8.5" text-anchor="end" fill="#1c1c1c" textLength="8.6" lengthAdjust="spacingAndGlyphs">20</text>
<path d="M135.3 747.5H142.5" stroke="#1a1a1a" stroke-width="1"/>
<text x="133.1" y="750.2" font-size="8.5" text-anchor="end" fill="#1c1c1c" textLength="8.6" lengthAdjust="spacingAndGlyphs">30</text>
<path d="M324.5 852.5H332.8" stroke="#1a1a1a" stroke-width="1"/>
<text x="335.7" y="855.3" font-size="8.5" fill="#1c1c1c" textLength="8.6" lengthAdjust="spacingAndGlyphs">70</text>
<path d="M324.5 826.25H332.8" stroke="#1a1a1a" stroke-width="1"/>
<text x="335.7" y="829.05" font-size="8.5" fill="#1c1c1c" textLength="8.6" lengthAdjust="spacingAndGlyphs">80</text>
<path d="M324.5 800H332.8" stroke="#1a1a1a" stroke-width="1"/>
<text x="335.7" y="802.8" font-size="8.5" fill="#1c1c1c" textLength="8.6" lengthAdjust="spacingAndGlyphs">90</text>
<path d="M324.5 773.75H332.8" stroke="#1a1a1a" stroke-width="1"/>
<text x="335.7" y="776.55" font-size="8.5" fill="#1c1c1c" textLength="12.9" lengthAdjust="spacingAndGlyphs">100</text>
<path d="M324.5 747.5H332.8" stroke="#1a1a1a" stroke-width="1"/>
<text x="335.7" y="750.3" font-size="8.5" fill="#1c1c1c" textLength="12.9" lengthAdjust="spacingAndGlyphs">110</text>
<text transform="translate(120.2 802.5) rotate(-90)" font-size="8.6" text-anchor="middle" fill="#1c1c1c" textLength="73.2" lengthAdjust="spacingAndGlyphs">% Unlabelled (M + 0)</text>
<text transform="translate(353.9 801.2) rotate(90)" font-size="8.6" text-anchor="middle" fill="#1c1c1c" textLength="83.9" lengthAdjust="spacingAndGlyphs">% <tspan font-size="6.2" dy="-3.3">13</tspan><tspan dy="3.3">C-Labelled (M + ≥1)</tspan></text>
<path d="M153.4 852.5V858.8" stroke="#1a1a1a" stroke-width="1"/>
<text x="153.4" y="868.7" font-size="9" text-anchor="middle" fill="#1c1c1c" textLength="10.4" lengthAdjust="spacingAndGlyphs">D0</text>
<path d="M169.95 852.5V858.8" stroke="#1a1a1a" stroke-width="1"/>
<text x="169.95" y="868.7" font-size="9" text-anchor="middle" fill="#1c1c1c" textLength="10.4" lengthAdjust="spacingAndGlyphs">D1</text>
<path d="M186.5 852.5V858.8" stroke="#1a1a1a" stroke-width="1"/>
<text x="186.5" y="868.7" font-size="9" text-anchor="middle" fill="#1c1c1c" textLength="10.4" lengthAdjust="spacingAndGlyphs">D3</text>
<path d="M203.05 852.5V858.8" stroke="#1a1a1a" stroke-width="1"/>
<text x="203.05" y="868.7" font-size="9" text-anchor="middle" fill="#1c1c1c" textLength="10.4" lengthAdjust="spacingAndGlyphs">D5</text>
<path d="M219.6 852.5V858.8" stroke="#1a1a1a" stroke-width="1"/>
<text x="219.6" y="868.7" font-size="9" text-anchor="middle" fill="#1c1c1c" textLength="10.4" lengthAdjust="spacingAndGlyphs">D7</text>
<path d="M247.25 852.5V858.8" stroke="#1a1a1a" stroke-width="1"/>
<text x="247.25" y="868.7" font-size="9" text-anchor="middle" fill="#1c1c1c" textLength="10.4" lengthAdjust="spacingAndGlyphs">D0</text>
<path d="M263.8 852.5V858.8" stroke="#1a1a1a" stroke-width="1"/>
<text x="263.8" y="868.7" font-size="9" text-anchor="middle" fill="#1c1c1c" textLength="10.4" lengthAdjust="spacingAndGlyphs">D1</text>
<path d="M280.35 852.5V858.8" stroke="#1a1a1a" stroke-width="1"/>
<text x="280.35" y="868.7" font-size="9" text-anchor="middle" fill="#1c1c1c" textLength="10.4" lengthAdjust="spacingAndGlyphs">D3</text>
<path d="M296.9 852.5V858.8" stroke="#1a1a1a" stroke-width="1"/>
<text x="296.9" y="868.7" font-size="9" text-anchor="middle" fill="#1c1c1c" textLength="10.4" lengthAdjust="spacingAndGlyphs">D5</text>
<path d="M313.45 852.5V858.8" stroke="#1a1a1a" stroke-width="1"/>
<text x="313.45" y="868.7" font-size="9" text-anchor="middle" fill="#1c1c1c" textLength="10.4" lengthAdjust="spacingAndGlyphs">D7</text>
<text x="233.8" y="882.7" font-size="8.6" text-anchor="middle" fill="#1c1c1c" textLength="95.4" lengthAdjust="spacingAndGlyphs">Treatment Timepoint (n = 3)</text>
<rect x="148.4" y="751.6" width="4.1" height="4.1" fill="#4a6db5" stroke="#111" stroke-width="0.7"/>
<text x="159.5" y="755.8" font-size="8.6" fill="#1c1c1c" textLength="36.8" lengthAdjust="spacingAndGlyphs">Unlabelled</text>
<rect x="239.5" y="751.6" width="4.1" height="4.1" fill="#639bd2" stroke="#111" stroke-width="0.7"/>
<text x="250.8" y="758" font-size="8.6" fill="#1c1c1c" textLength="70.8" lengthAdjust="spacingAndGlyphs">Fully Labelled (<tspan font-size="6.3" dy="-3.6">13</tspan><tspan dy="3.6">C</tspan><tspan font-size="6.3" dy="2.0">3</tspan><tspan dy="-2.0">)</tspan></text>
<rect x="148.35" y="812.3" width="10.1" height="40.2" fill="#4a6db5" stroke="#111" stroke-width="0.8"/>
<path d="M153.4 804.5V819.9M151.3 804.5H155.5M151.3 819.9H155.5" stroke="#111" stroke-width="0.8"/>
<circle cx="153.4" cy="804.5" r="1.55" fill="#fff" stroke="#0a0a0a" stroke-width="0.9"/>
<circle cx="153.4" cy="811.8" r="1.55" fill="#fff" stroke="#0a0a0a" stroke-width="0.9"/>
<circle cx="153.4" cy="819.9" r="1.55" fill="#fff" stroke="#0a0a0a" stroke-width="0.9"/>
<rect x="164.9" y="818" width="10.1" height="34.5" fill="#4a6db5" stroke="#111" stroke-width="0.8"/>
<circle cx="166.05" cy="818.3" r="1.55" fill="#fff" stroke="#0a0a0a" stroke-width="0.9"/>
<circle cx="170.05" cy="818.3" r="1.55" fill="#fff" stroke="#0a0a0a" stroke-width="0.9"/>
<circle cx="173.85" cy="818.3" r="1.55" fill="#fff" stroke="#0a0a0a" stroke-width="0.9"/>
<rect x="181.45" y="811.6" width="10.1" height="40.9" fill="#4a6db5" stroke="#111" stroke-width="0.8"/>
<path d="M186.5 805.5V814.5M184.4 805.5H188.6M184.4 814.5H188.6" stroke="#111" stroke-width="0.8"/>
<circle cx="186.5" cy="805.5" r="1.55" fill="#fff" stroke="#0a0a0a" stroke-width="0.9"/>
<circle cx="183" cy="814" r="1.55" fill="#fff" stroke="#0a0a0a" stroke-width="0.9"/>
<circle cx="190.3" cy="814" r="1.55" fill="#fff" stroke="#0a0a0a" stroke-width="0.9"/>
<rect x="198" y="817.7" width="10.1" height="34.8" fill="#4a6db5" stroke="#111" stroke-width="0.8"/>
<path d="M203.05 811V822.8M200.95 811H205.15M200.95 822.8H205.15" stroke="#111" stroke-width="0.8"/>
<circle cx="203.05" cy="811" r="1.55" fill="#fff" stroke="#0a0a0a" stroke-width="0.9"/>
<circle cx="203.05" cy="819" r="1.55" fill="#fff" stroke="#0a0a0a" stroke-width="0.9"/>
<circle cx="203.05" cy="822.8" r="1.55" fill="#fff" stroke="#0a0a0a" stroke-width="0.9"/>
<rect x="214.55" y="798.5" width="10.1" height="54" fill="#4a6db5" stroke="#111" stroke-width="0.8"/>
<path d="M219.6 781.4V817.3M217.5 781.4H221.7M217.5 817.3H221.7" stroke="#111" stroke-width="0.8"/>
<circle cx="219.6" cy="785.8" r="1.55" fill="#fff" stroke="#0a0a0a" stroke-width="0.9"/>
<circle cx="219.6" cy="792.3" r="1.55" fill="#fff" stroke="#0a0a0a" stroke-width="0.9"/>
<circle cx="219.6" cy="817.3" r="1.55" fill="#fff" stroke="#0a0a0a" stroke-width="0.9"/>
<rect x="242.2" y="817.3" width="10.1" height="35.2" fill="#639bd2" stroke="#111" stroke-width="0.8"/>
<path d="M247.25 812V823M245.15 812H249.35M245.15 823H249.35" stroke="#111" stroke-width="0.8"/>
<circle cx="243.75" cy="813.1" r="1.55" fill="#fff" stroke="#0a0a0a" stroke-width="0.9"/>
<circle cx="251.85" cy="813.1" r="1.55" fill="#fff" stroke="#0a0a0a" stroke-width="0.9"/>
<circle cx="247.75" cy="823" r="1.55" fill="#fff" stroke="#0a0a0a" stroke-width="0.9"/>
<rect x="258.75" y="811.4" width="10.1" height="41.1" fill="#639bd2" stroke="#111" stroke-width="0.8"/>
<path d="M263.8 807.7V812.7M261.7 807.7H265.9M261.7 812.7H265.9" stroke="#111" stroke-width="0.8"/>
<circle cx="264.2" cy="807.7" r="1.55" fill="#fff" stroke="#0a0a0a" stroke-width="0.9"/>
<circle cx="260.4" cy="812.7" r="1.55" fill="#fff" stroke="#0a0a0a" stroke-width="0.9"/>
<circle cx="268.2" cy="812.7" r="1.55" fill="#fff" stroke="#0a0a0a" stroke-width="0.9"/>
<rect x="275.3" y="811.4" width="10.1" height="41.1" fill="#639bd2" stroke="#111" stroke-width="0.8"/>
<path d="M280.35 808.1V813.7M278.25 808.1H282.45M278.25 813.7H282.45" stroke="#111" stroke-width="0.8"/>
<circle cx="276.85" cy="808.1" r="1.55" fill="#fff" stroke="#0a0a0a" stroke-width="0.9"/>
<circle cx="276.85" cy="813.7" r="1.55" fill="#fff" stroke="#0a0a0a" stroke-width="0.9"/>
<circle cx="284.35" cy="811.4" r="1.55" fill="#fff" stroke="#0a0a0a" stroke-width="0.9"/>
<rect x="291.85" y="811.4" width="10.1" height="41.1" fill="#639bd2" stroke="#111" stroke-width="0.8"/>
<path d="M296.9 806V819.5M294.8 806H299M294.8 819.5H299" stroke="#111" stroke-width="0.8"/>
<circle cx="292.7" cy="806.8" r="1.55" fill="#fff" stroke="#0a0a0a" stroke-width="0.9"/>
<circle cx="300.7" cy="807.7" r="1.55" fill="#fff" stroke="#0a0a0a" stroke-width="0.9"/>
<circle cx="297" cy="819.5" r="1.55" fill="#fff" stroke="#0a0a0a" stroke-width="0.9"/>
<rect x="308.4" y="828.2" width="10.1" height="24.3" fill="#639bd2" stroke="#111" stroke-width="0.8"/>
<path d="M313.45 816V840M311.35 816H315.55M311.35 840H315.55" stroke="#111" stroke-width="0.8"/>
<circle cx="313.45" cy="816" r="1.55" fill="#fff" stroke="#0a0a0a" stroke-width="0.9"/>
<circle cx="313.45" cy="826.5" r="1.55" fill="#fff" stroke="#0a0a0a" stroke-width="0.9"/>
<circle cx="313.45" cy="840" r="1.55" fill="#fff" stroke="#0a0a0a" stroke-width="0.9"/>
<path d="M153.4 800.5H169.95" stroke="#262626" stroke-width="1"/>
<text x="161.68" y="797.2" font-size="5.9" text-anchor="middle" fill="#1c1c1c" textLength="26" lengthAdjust="spacingAndGlyphs">P = 0.8127</text>
<path d="M153.4 790.5H186.5" stroke="#262626" stroke-width="1"/>
<text x="169.95" y="787.2" font-size="5.9" text-anchor="middle" fill="#1c1c1c" textLength="26" lengthAdjust="spacingAndGlyphs">P = 0.8990</text>
<path d="M153.4 779.5H203.05" stroke="#262626" stroke-width="1"/>
<text x="178.23" y="776.2" font-size="5.9" text-anchor="middle" fill="#1c1c1c" textLength="26" lengthAdjust="spacingAndGlyphs">P = 0.8127</text>
<path d="M153.4 769.5H219.6" stroke="#262626" stroke-width="1"/>
<text x="186.5" y="766.2" font-size="5.9" text-anchor="middle" fill="#1c1c1c" textLength="26" lengthAdjust="spacingAndGlyphs">P = 0.2562</text>
<path d="M247.25 802.5H263.8" stroke="#262626" stroke-width="1"/>
<text x="255.53" y="799.2" font-size="5.9" text-anchor="middle" fill="#1c1c1c" textLength="26" lengthAdjust="spacingAndGlyphs">P = 0.7054</text>
<path d="M247.25 792.5H280.35" stroke="#262626" stroke-width="1"/>
<text x="263.8" y="789.2" font-size="5.9" text-anchor="middle" fill="#1c1c1c" textLength="26" lengthAdjust="spacingAndGlyphs">P = 0.7054</text>
<path d="M247.25 783.5H296.9" stroke="#262626" stroke-width="1"/>
<text x="272.07" y="780.2" font-size="5.9" text-anchor="middle" fill="#1c1c1c" textLength="26" lengthAdjust="spacingAndGlyphs">P = 0.7054</text>
<path d="M247.25 773.5H313.45" stroke="#262626" stroke-width="1"/>
<text x="280.35" y="770.2" font-size="5.9" text-anchor="middle" fill="#1c1c1c" textLength="26" lengthAdjust="spacingAndGlyphs">P = 0.1991</text>
</g>
<g>
<text x="522.25" y="739" font-size="8.3" text-anchor="middle" font-weight="bold" fill="#111">Lactate</text>
<path d="M431 747.5H613M431 747.5V852.5H613V747.5" fill="none" stroke="#1a1a1a" stroke-width="1"/>
<path d="M423.8 852.5H431" stroke="#1a1a1a" stroke-width="1"/>
<text x="421.6" y="855.2" font-size="8.5" text-anchor="end" fill="#1c1c1c" textLength="4.3" lengthAdjust="spacingAndGlyphs">0</text>
<path d="M423.8 817.5H431" stroke="#1a1a1a" stroke-width="1"/>
<text x="421.6" y="820.2" font-size="8.5" text-anchor="end" fill="#1c1c1c" textLength="8.6" lengthAdjust="spacingAndGlyphs">10</text>
<path d="M423.8 782.5H431" stroke="#1a1a1a" stroke-width="1"/>
<text x="421.6" y="785.2" font-size="8.5" text-anchor="end" fill="#1c1c1c" textLength="8.6" lengthAdjust="spacingAndGlyphs">20</text>
<path d="M423.8 747.5H431" stroke="#1a1a1a" stroke-width="1"/>
<text x="421.6" y="750.2" font-size="8.5" text-anchor="end" fill="#1c1c1c" textLength="8.6" lengthAdjust="spacingAndGlyphs">30</text>
<path d="M613 852.5H621.3" stroke="#1a1a1a" stroke-width="1"/>
<text x="624.2" y="855.3" font-size="8.5" fill="#1c1c1c" textLength="8.6" lengthAdjust="spacingAndGlyphs">70</text>
<path d="M613 817.5H621.3" stroke="#1a1a1a" stroke-width="1"/>
<text x="624.2" y="820.3" font-size="8.5" fill="#1c1c1c" textLength="8.6" lengthAdjust="spacingAndGlyphs">80</text>
<path d="M613 782.5H621.3" stroke="#1a1a1a" stroke-width="1"/>
<text x="624.2" y="785.3" font-size="8.5" fill="#1c1c1c" textLength="8.6" lengthAdjust="spacingAndGlyphs">90</text>
<path d="M613 747.5H621.3" stroke="#1a1a1a" stroke-width="1"/>
<text x="624.2" y="750.3" font-size="8.5" fill="#1c1c1c" textLength="12.9" lengthAdjust="spacingAndGlyphs">100</text>
<text transform="translate(408.7 802.5) rotate(-90)" font-size="8.6" text-anchor="middle" fill="#1c1c1c" textLength="73.2" lengthAdjust="spacingAndGlyphs">% Unlabelled (M + 0)</text>
<text transform="translate(642.4 801.2) rotate(90)" font-size="8.6" text-anchor="middle" fill="#1c1c1c" textLength="79.8" lengthAdjust="spacingAndGlyphs">% <tspan font-size="6.2" dy="-3.3">13</tspan><tspan dy="3.3">C-Labelled (M + 3)</tspan></text>
<path d="M441.9 852.5V858.8" stroke="#1a1a1a" stroke-width="1"/>
<text x="441.9" y="868.7" font-size="9" text-anchor="middle" fill="#1c1c1c" textLength="10.4" lengthAdjust="spacingAndGlyphs">D0</text>
<path d="M458.45 852.5V858.8" stroke="#1a1a1a" stroke-width="1"/>
<text x="458.45" y="868.7" font-size="9" text-anchor="middle" fill="#1c1c1c" textLength="10.4" lengthAdjust="spacingAndGlyphs">D1</text>
<path d="M475 852.5V858.8" stroke="#1a1a1a" stroke-width="1"/>
<text x="475" y="868.7" font-size="9" text-anchor="middle" fill="#1c1c1c" textLength="10.4" lengthAdjust="spacingAndGlyphs">D3</text>
<path d="M491.55 852.5V858.8" stroke="#1a1a1a" stroke-width="1"/>
<text x="491.55" y="868.7" font-size="9" text-anchor="middle" fill="#1c1c1c" textLength="10.4" lengthAdjust="spacingAndGlyphs">D5</text>
<path d="M508.1 852.5V858.8" stroke="#1a1a1a" stroke-width="1"/>
<text x="508.1" y="868.7" font-size="9" text-anchor="middle" fill="#1c1c1c" textLength="10.4" lengthAdjust="spacingAndGlyphs">D7</text>
<path d="M535.75 852.5V858.8" stroke="#1a1a1a" stroke-width="1"/>
<text x="535.75" y="868.7" font-size="9" text-anchor="middle" fill="#1c1c1c" textLength="10.4" lengthAdjust="spacingAndGlyphs">D0</text>
<path d="M552.3 852.5V858.8" stroke="#1a1a1a" stroke-width="1"/>
<text x="552.3" y="868.7" font-size="9" text-anchor="middle" fill="#1c1c1c" textLength="10.4" lengthAdjust="spacingAndGlyphs">D1</text>
<path d="M568.85 852.5V858.8" stroke="#1a1a1a" stroke-width="1"/>
<text x="568.85" y="868.7" font-size="9" text-anchor="middle" fill="#1c1c1c" textLength="10.4" lengthAdjust="spacingAndGlyphs">D3</text>
<path d="M585.4 852.5V858.8" stroke="#1a1a1a" stroke-width="1"/>
<text x="585.4" y="868.7" font-size="9" text-anchor="middle" fill="#1c1c1c" textLength="10.4" lengthAdjust="spacingAndGlyphs">D5</text>
<path d="M601.95 852.5V858.8" stroke="#1a1a1a" stroke-width="1"/>
<text x="601.95" y="868.7" font-size="9" text-anchor="middle" fill="#1c1c1c" textLength="10.4" lengthAdjust="spacingAndGlyphs">D7</text>
<text x="522.3" y="882.7" font-size="8.6" text-anchor="middle" fill="#1c1c1c" textLength="95.4" lengthAdjust="spacingAndGlyphs">Treatment Timepoint (n = 3)</text>
<rect x="436.9" y="751.6" width="4.1" height="4.1" fill="#4a6db5" stroke="#111" stroke-width="0.7"/>
<text x="448" y="755.8" font-size="8.6" fill="#1c1c1c" textLength="36.8" lengthAdjust="spacingAndGlyphs">Unlabelled</text>
<rect x="527.8" y="751.6" width="4.1" height="4.1" fill="#639bd2" stroke="#111" stroke-width="0.7"/>
<text x="539.3" y="758" font-size="8.6" fill="#1c1c1c" textLength="70.8" lengthAdjust="spacingAndGlyphs">Fully Labelled (<tspan font-size="6.3" dy="-3.6">13</tspan><tspan dy="3.6">C</tspan><tspan font-size="6.3" dy="2.0">3</tspan><tspan dy="-2.0">)</tspan></text>
<rect x="436.85" y="811.6" width="10.1" height="40.9" fill="#4a6db5" stroke="#111" stroke-width="0.8"/>
<circle cx="438.2" cy="811.6" r="1.55" fill="#fff" stroke="#0a0a0a" stroke-width="0.9"/>
<circle cx="442.2" cy="811.1" r="1.55" fill="#fff" stroke="#0a0a0a" stroke-width="0.9"/>
<circle cx="446.2" cy="811.6" r="1.55" fill="#fff" stroke="#0a0a0a" stroke-width="0.9"/>
<rect x="453.4" y="812.4" width="10.1" height="40.1" fill="#4a6db5" stroke="#111" stroke-width="0.8"/>
<path d="M458.45 806.8V815M456.35 806.8H460.55M456.35 815H460.55" stroke="#111" stroke-width="0.8"/>
<circle cx="458.65" cy="806.8" r="1.55" fill="#fff" stroke="#0a0a0a" stroke-width="0.9"/>
<circle cx="455.15" cy="814.7" r="1.55" fill="#fff" stroke="#0a0a0a" stroke-width="0.9"/>
<circle cx="462.15" cy="814.7" r="1.55" fill="#fff" stroke="#0a0a0a" stroke-width="0.9"/>
<rect x="469.95" y="812.4" width="10.1" height="40.1" fill="#4a6db5" stroke="#111" stroke-width="0.8"/>
<path d="M475 811V814.7M472.9 811H477.1M472.9 814.7H477.1" stroke="#111" stroke-width="0.8"/>
<circle cx="471.2" cy="811" r="1.55" fill="#fff" stroke="#0a0a0a" stroke-width="0.9"/>
<circle cx="471.2" cy="814.7" r="1.55" fill="#fff" stroke="#0a0a0a" stroke-width="0.9"/>
<circle cx="478.8" cy="813.4" r="1.55" fill="#fff" stroke="#0a0a0a" stroke-width="0.9"/>
<rect x="486.5" y="814.7" width="10.1" height="37.8" fill="#4a6db5" stroke="#111" stroke-width="0.8"/>
<path d="M491.55 813.5V817.5M489.45 813.5H493.65M489.45 817.5H493.65" stroke="#111" stroke-width="0.8"/>
<circle cx="487.45" cy="814" r="1.55" fill="#fff" stroke="#0a0a0a" stroke-width="0.9"/>
<circle cx="487.45" cy="818" r="1.55" fill="#fff" stroke="#0a0a0a" stroke-width="0.9"/>
<circle cx="494.45" cy="815.3" r="1.55" fill="#fff" stroke="#0a0a0a" stroke-width="0.9"/>
<rect x="503.05" y="803.8" width="10.1" height="48.7" fill="#4a6db5" stroke="#111" stroke-width="0.8"/>
<path d="M508.1 797.6V806M506 797.6H510.2M506 806H510.2" stroke="#111" stroke-width="0.8"/>
<circle cx="508.3" cy="797.6" r="1.55" fill="#fff" stroke="#0a0a0a" stroke-width="0.9"/>
<circle cx="504.5" cy="805.5" r="1.55" fill="#fff" stroke="#0a0a0a" stroke-width="0.9"/>
<circle cx="512" cy="805.5" r="1.55" fill="#fff" stroke="#0a0a0a" stroke-width="0.9"/>
<rect x="530.7" y="806.8" width="10.1" height="45.7" fill="#639bd2" stroke="#111" stroke-width="0.8"/>
<circle cx="531.85" cy="807.7" r="1.55" fill="#fff" stroke="#0a0a0a" stroke-width="0.9"/>
<circle cx="535.85" cy="807.2" r="1.55" fill="#fff" stroke="#0a0a0a" stroke-width="0.9"/>
<circle cx="539.75" cy="807.2" r="1.55" fill="#fff" stroke="#0a0a0a" stroke-width="0.9"/>
<rect x="547.25" y="807.2" width="10.1" height="45.3" fill="#639bd2" stroke="#111" stroke-width="0.8"/>
<path d="M552.3 803.8V812M550.2 803.8H554.4M550.2 812H554.4" stroke="#111" stroke-width="0.8"/>
<circle cx="548.5" cy="803.8" r="1.55" fill="#fff" stroke="#0a0a0a" stroke-width="0.9"/>
<circle cx="552.3" cy="812" r="1.55" fill="#fff" stroke="#0a0a0a" stroke-width="0.9"/>
<circle cx="556.2" cy="804.2" r="1.55" fill="#fff" stroke="#0a0a0a" stroke-width="0.9"/>
<rect x="563.8" y="805.5" width="10.1" height="47" fill="#639bd2" stroke="#111" stroke-width="0.8"/>
<path d="M568.85 804.8V808.8M566.75 804.8H570.95M566.75 808.8H570.95" stroke="#111" stroke-width="0.8"/>
<circle cx="565.05" cy="804.8" r="1.55" fill="#fff" stroke="#0a0a0a" stroke-width="0.9"/>
<circle cx="565.05" cy="808.8" r="1.55" fill="#fff" stroke="#0a0a0a" stroke-width="0.9"/>
<circle cx="572.55" cy="806.1" r="1.55" fill="#fff" stroke="#0a0a0a" stroke-width="0.9"/>
<rect x="580.35" y="805.5" width="10.1" height="47" fill="#639bd2" stroke="#111" stroke-width="0.8"/>
<path d="M585.4 801V806.5M583.3 801H587.5M583.3 806.5H587.5" stroke="#111" stroke-width="0.8"/>
<circle cx="581.6" cy="800.9" r="1.55" fill="#fff" stroke="#0a0a0a" stroke-width="0.9"/>
<circle cx="581.6" cy="806.1" r="1.55" fill="#fff" stroke="#0a0a0a" stroke-width="0.9"/>
<circle cx="589.3" cy="804.5" r="1.55" fill="#fff" stroke="#0a0a0a" stroke-width="0.9"/>
<rect x="596.9" y="817.3" width="10.1" height="35.2" fill="#639bd2" stroke="#111" stroke-width="0.8"/>
<path d="M601.95 814.3V822.2M599.85 814.3H604.05M599.85 822.2H604.05" stroke="#111" stroke-width="0.8"/>
<circle cx="597.95" cy="814.3" r="1.55" fill="#fff" stroke="#0a0a0a" stroke-width="0.9"/>
<circle cx="601.95" cy="822.2" r="1.55" fill="#fff" stroke="#0a0a0a" stroke-width="0.9"/>
<circle cx="605.95" cy="815" r="1.55" fill="#fff" stroke="#0a0a0a" stroke-width="0.9"/>
<path d="M441.9 803.5H458.45" stroke="#262626" stroke-width="1"/>
<text x="450.17" y="800.2" font-size="5.9" text-anchor="middle" fill="#1c1c1c" textLength="26" lengthAdjust="spacingAndGlyphs">P = 0.8316</text>
<path d="M441.9 793.5H475" stroke="#262626" stroke-width="1"/>
<text x="458.45" y="790.2" font-size="5.9" text-anchor="middle" fill="#1c1c1c" textLength="26" lengthAdjust="spacingAndGlyphs">P = 0.7828</text>
<path d="M441.9 782.5H491.55" stroke="#262626" stroke-width="1"/>
<text x="466.72" y="779.2" font-size="5.9" text-anchor="middle" fill="#1c1c1c" textLength="26" lengthAdjust="spacingAndGlyphs">P = 0.3114</text>
<path d="M441.9 773.5H508.1" stroke="#262626" stroke-width="1"/>
<text x="475" y="770.2" font-size="5.9" text-anchor="middle" fill="#1c1c1c" textLength="26" lengthAdjust="spacingAndGlyphs">P = 0.0133</text>
<path d="M535.75 800.5H552.3" stroke="#262626" stroke-width="1"/>
<text x="544.02" y="797.2" font-size="5.9" text-anchor="middle" fill="#1c1c1c" textLength="26" lengthAdjust="spacingAndGlyphs">P = 0.9517</text>
<path d="M535.75 789.5H568.85" stroke="#262626" stroke-width="1"/>
<text x="552.3" y="786.2" font-size="5.9" text-anchor="middle" fill="#1c1c1c" textLength="26" lengthAdjust="spacingAndGlyphs">P = 0.9517</text>
<path d="M535.75 779.5H585.4" stroke="#262626" stroke-width="1"/>
<text x="560.58" y="776.2" font-size="5.9" text-anchor="middle" fill="#1c1c1c" textLength="26" lengthAdjust="spacingAndGlyphs">P = 0.4692</text>
<path d="M535.75 770.5H601.95" stroke="#262626" stroke-width="1"/>
<text x="568.85" y="767.2" font-size="5.9" text-anchor="middle" fill="#1c1c1c" textLength="26" lengthAdjust="spacingAndGlyphs">P = 0.0053</text>
</g>
</svg>
</body></html>
